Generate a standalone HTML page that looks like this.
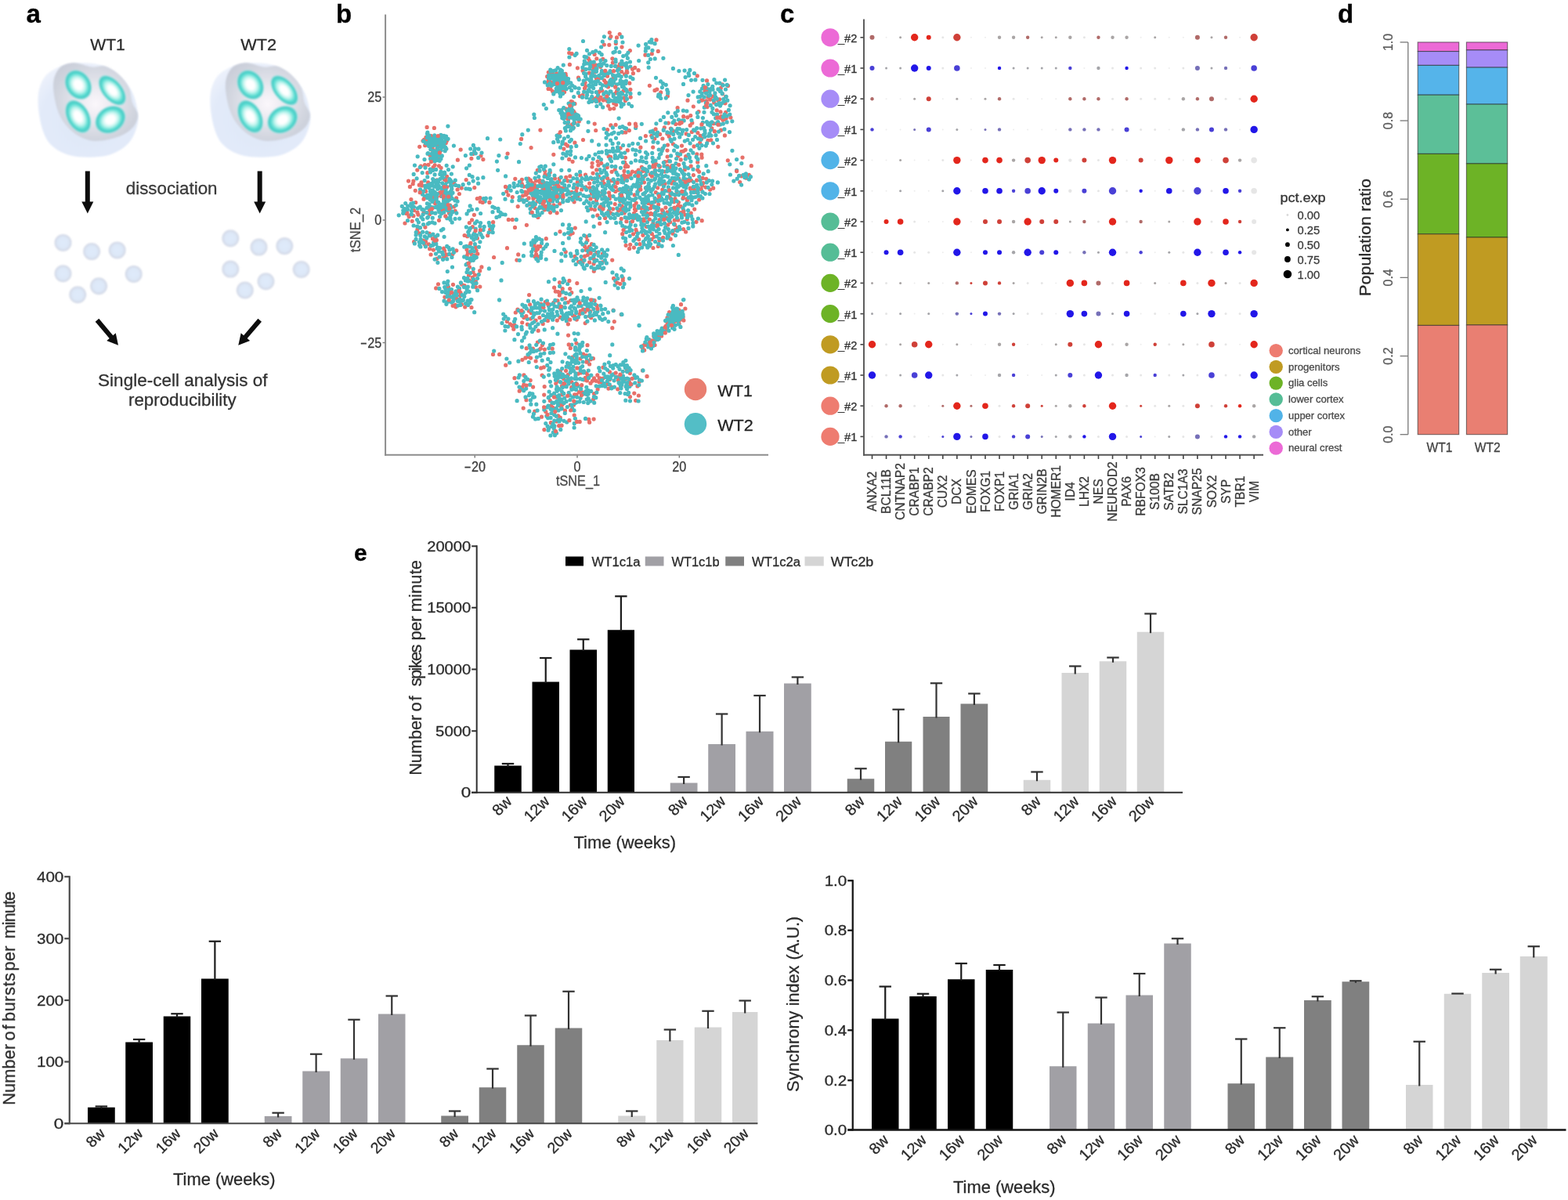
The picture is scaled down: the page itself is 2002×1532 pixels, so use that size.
<!DOCTYPE html>
<html lang="en"><head><meta charset="utf-8"><title>Figure</title>
<style>
html,body{margin:0;padding:0;background:#fff;}
body{width:2002px;height:1532px;overflow:hidden;}
svg{display:block;font-family:"Liberation Sans",Arial,Helvetica,sans-serif;}
text{stroke-width:0.3px;stroke-linejoin:round;}
</style></head><body>
<svg width="2002" height="1532" viewBox="0 0 2002 1532">
<defs><filter id="gb" x="0" y="0" width="2002" height="1532" filterUnits="userSpaceOnUse"><feGaussianBlur stdDeviation="0.55"/></filter></defs>
<rect width="2002" height="1532" fill="#fff"/>
<g filter="url(#gb)">
<g id="panel-a">
<defs>
<filter id="soft" x="-10%" y="-10%" width="120%" height="120%"><feGaussianBlur stdDeviation="1.3"/></filter>
<filter id="soft2" x="-20%" y="-20%" width="140%" height="140%"><feGaussianBlur stdDeviation="0.9"/></filter>
<radialGradient id="gOuter" cx="0.5" cy="0.6" r="0.62"><stop offset="0" stop-color="#dfe8f8"/><stop offset="0.75" stop-color="#e2eaf9"/><stop offset="1" stop-color="#ecf1fb"/></radialGradient>
<radialGradient id="gGray" cx="0.5" cy="0.5" r="0.6"><stop offset="0" stop-color="#efeef4"/><stop offset="0.45" stop-color="#e2e3ea"/><stop offset="0.8" stop-color="#d0d4de"/><stop offset="1" stop-color="#c9cdd8"/></radialGradient>
<radialGradient id="gHi" cx="0.5" cy="0.5" r="0.5"><stop offset="0" stop-color="#fbf7fb" stop-opacity="0.95"/><stop offset="1" stop-color="#f3eef5" stop-opacity="0"/></radialGradient>
<radialGradient id="gTeal" cx="0.5" cy="0.5" r="0.5"><stop offset="0" stop-color="#ffffff"/><stop offset="0.3" stop-color="#ffffff"/><stop offset="0.52" stop-color="#c4f5ef"/><stop offset="0.74" stop-color="#5fdfd4"/><stop offset="0.9" stop-color="#43c9c3"/><stop offset="1" stop-color="#9ae6e4"/></radialGradient>
<radialGradient id="gCell" cx="0.5" cy="0.5" r="0.5"><stop offset="0" stop-color="#dfeafa"/><stop offset="0.6" stop-color="#dde8f8"/><stop offset="0.82" stop-color="#d8e0ef"/><stop offset="0.94" stop-color="#d0d6e4"/><stop offset="1" stop-color="#e0e4ee"/></radialGradient>
</defs>
<text x="33.5" y="28.6" font-size="33" fill="#000" stroke="#000" font-weight="bold">a</text>
<text x="115.2" y="64.2" font-size="21" fill="#2a2a2a" stroke="#2a2a2a" textLength="44.6" lengthAdjust="spacingAndGlyphs">WT1</text>
<text x="307.3" y="64.2" font-size="21" fill="#2a2a2a" stroke="#2a2a2a" textLength="45.9" lengthAdjust="spacingAndGlyphs">WT2</text>
<g transform="translate(0 0)">
<path d="M48.59 133.11C48.15 123.88 48.76 116.05 51.41 109.09C54.06 102.12 57.59 96.03 64.46 91.33C71.34 86.63 81 81.93 92.66 80.89C104.33 79.84 122.25 79.84 134.44 85.07C146.62 90.29 158.81 101.95 165.77 112.22C172.73 122.49 175.17 137.11 176.21 146.68C177.26 156.26 174.65 163.05 172.04 169.66C169.43 176.28 165.94 181.67 160.55 186.37C155.15 191.07 147.49 195.46 139.66 197.86C131.83 200.26 122.25 200.78 113.55 200.78C104.85 200.78 95.45 200.44 87.44 197.86C79.43 195.28 71.08 190.9 65.51 185.33C59.94 179.76 56.84 173.14 54.02 164.44C51.2 155.74 49.03 142.33 48.59 133.11Z" fill="url(#gOuter)" filter="url(#soft)"/>
<path d="M68.43 103.86C69.56 96.9 72.61 90.03 77 86.11C81.38 82.19 88.14 80.45 94.75 80.37C101.37 80.28 110.07 84.84 116.68 85.59C123.3 86.34 128.52 83.2 134.44 84.86C140.36 86.51 147.15 90.95 152.19 95.51C157.24 100.07 161.94 106.3 164.73 112.22C167.51 118.14 167.02 125.27 168.9 131.02C170.78 136.76 175.83 141.46 176.01 146.68C176.18 151.91 173.74 157.82 169.95 162.35C166.15 166.88 160.9 170.88 153.24 173.84C145.58 176.8 132.35 179.93 123.99 180.1C115.64 180.28 109.03 177.49 103.11 174.88C97.19 172.27 92.84 168.79 88.49 164.44C84.13 160.09 80.04 154.87 77 148.77C73.95 142.68 71.64 135.37 70.21 127.89C68.78 120.4 67.3 110.83 68.43 103.86Z" fill="url(#gGray)" filter="url(#soft)"/>
<ellipse cx="121.91" cy="133.11" rx="30" ry="30" fill="url(#gHi)"/>
<ellipse cx="0" cy="0" rx="15.67" ry="19.84" transform="translate(99.97 108.25) rotate(-33)" fill="url(#gTeal)" filter="url(#soft2)"/>
<ellipse cx="0" cy="0" rx="12.53" ry="22.45" transform="translate(143.32 115.35) rotate(-40)" fill="url(#gTeal)" filter="url(#soft2)"/>
<ellipse cx="0" cy="0" rx="14.1" ry="22.45" transform="translate(99.77 148.77) rotate(-28)" fill="url(#gTeal)" filter="url(#soft2)"/>
<ellipse cx="0" cy="0" rx="20.37" ry="16.19" transform="translate(140.91 152.74) rotate(-33)" fill="url(#gTeal)" filter="url(#soft2)"/>
</g>
<g transform="translate(219.8 0)">
<path d="M48.59 133.11C48.15 123.88 48.76 116.05 51.41 109.09C54.06 102.12 57.59 96.03 64.46 91.33C71.34 86.63 81 81.93 92.66 80.89C104.33 79.84 122.25 79.84 134.44 85.07C146.62 90.29 158.81 101.95 165.77 112.22C172.73 122.49 175.17 137.11 176.21 146.68C177.26 156.26 174.65 163.05 172.04 169.66C169.43 176.28 165.94 181.67 160.55 186.37C155.15 191.07 147.49 195.46 139.66 197.86C131.83 200.26 122.25 200.78 113.55 200.78C104.85 200.78 95.45 200.44 87.44 197.86C79.43 195.28 71.08 190.9 65.51 185.33C59.94 179.76 56.84 173.14 54.02 164.44C51.2 155.74 49.03 142.33 48.59 133.11Z" fill="url(#gOuter)" filter="url(#soft)"/>
<path d="M68.43 103.86C69.56 96.9 72.61 90.03 77 86.11C81.38 82.19 88.14 80.45 94.75 80.37C101.37 80.28 110.07 84.84 116.68 85.59C123.3 86.34 128.52 83.2 134.44 84.86C140.36 86.51 147.15 90.95 152.19 95.51C157.24 100.07 161.94 106.3 164.73 112.22C167.51 118.14 167.02 125.27 168.9 131.02C170.78 136.76 175.83 141.46 176.01 146.68C176.18 151.91 173.74 157.82 169.95 162.35C166.15 166.88 160.9 170.88 153.24 173.84C145.58 176.8 132.35 179.93 123.99 180.1C115.64 180.28 109.03 177.49 103.11 174.88C97.19 172.27 92.84 168.79 88.49 164.44C84.13 160.09 80.04 154.87 77 148.77C73.95 142.68 71.64 135.37 70.21 127.89C68.78 120.4 67.3 110.83 68.43 103.86Z" fill="url(#gGray)" filter="url(#soft)"/>
<ellipse cx="121.91" cy="133.11" rx="30" ry="30" fill="url(#gHi)"/>
<ellipse cx="0" cy="0" rx="15.67" ry="19.84" transform="translate(99.97 108.25) rotate(-33)" fill="url(#gTeal)" filter="url(#soft2)"/>
<ellipse cx="0" cy="0" rx="12.53" ry="22.45" transform="translate(143.32 115.35) rotate(-40)" fill="url(#gTeal)" filter="url(#soft2)"/>
<ellipse cx="0" cy="0" rx="14.1" ry="22.45" transform="translate(99.77 148.77) rotate(-28)" fill="url(#gTeal)" filter="url(#soft2)"/>
<ellipse cx="0" cy="0" rx="20.37" ry="16.19" transform="translate(140.91 152.74) rotate(-33)" fill="url(#gTeal)" filter="url(#soft2)"/>
</g>
<polygon points="108.8,218.6 108.8,257.4 104.3,257.4 111.8,272.4 119.3,257.4 114.8,257.4 114.8,218.6" fill="#0a0a0a"/>
<polygon points="328.7,218.6 328.7,257.4 324.2,257.4 331.7,272.4 339.2,257.4 334.7,257.4 334.7,218.6" fill="#0a0a0a"/>
<text x="160.8" y="247.6" font-size="22" fill="#3a3a3a" stroke="#3a3a3a" textLength="116.7" lengthAdjust="spacingAndGlyphs">dissociation</text>
<circle cx="80.5" cy="309.9" r="11" fill="url(#gCell)" filter="url(#soft2)"/>
<circle cx="117.1" cy="321.1" r="11" fill="url(#gCell)" filter="url(#soft2)"/>
<circle cx="149.7" cy="319.4" r="11" fill="url(#gCell)" filter="url(#soft2)"/>
<circle cx="80.5" cy="349.3" r="11" fill="url(#gCell)" filter="url(#soft2)"/>
<circle cx="170.7" cy="349.9" r="11" fill="url(#gCell)" filter="url(#soft2)"/>
<circle cx="126.1" cy="365.2" r="11" fill="url(#gCell)" filter="url(#soft2)"/>
<circle cx="99.2" cy="376.2" r="11" fill="url(#gCell)" filter="url(#soft2)"/>
<circle cx="294.3" cy="304.3" r="11" fill="url(#gCell)" filter="url(#soft2)"/>
<circle cx="330.5" cy="315.6" r="11" fill="url(#gCell)" filter="url(#soft2)"/>
<circle cx="363.3" cy="314.1" r="11" fill="url(#gCell)" filter="url(#soft2)"/>
<circle cx="294.3" cy="343.6" r="11" fill="url(#gCell)" filter="url(#soft2)"/>
<circle cx="384.7" cy="344" r="11" fill="url(#gCell)" filter="url(#soft2)"/>
<circle cx="339.5" cy="359.3" r="11" fill="url(#gCell)" filter="url(#soft2)"/>
<circle cx="312.8" cy="370.5" r="11" fill="url(#gCell)" filter="url(#soft2)"/>
<polygon points="121.7,410.63 139.69,432.02 136.25,434.91 151,440.8 147.73,425.26 144.28,428.15 126.3,406.77" fill="#0a0a0a"/>
<polygon points="329.42,406.75 311.11,428.2 307.68,425.28 304.3,440.8 319.09,435.02 315.67,432.1 333.98,410.65" fill="#0a0a0a"/>
<text x="125.1" y="492.8" font-size="22" fill="#333" stroke="#333" textLength="216.5" lengthAdjust="spacingAndGlyphs">Single-cell analysis of</text>
<text x="164" y="518" font-size="22" fill="#333" stroke="#333" textLength="137.7" lengthAdjust="spacingAndGlyphs">reproducibility</text>
</g>
<g id="panel-b">
<text x="429" y="29.2" font-size="33" fill="#000" stroke="#000" font-weight="bold">b</text>
<path d="M673.5 246.6h0M822.4 232.8h0M672.2 444.7h0M761.5 100.2h0M882.8 230.5h0M848.9 219.0h0M548.6 268.4h0M637.6 452.4h0M798.4 128.6h0M532.9 271.2h0M736.3 408.1h0M865.5 263.0h0M666.9 459.3h0M648.9 249.1h0M702.3 511.4h0M727.7 368.5h0M794.0 60.1h0M527.9 275.7h0M596.3 326.4h0M838.0 50.9h0M783.6 355.4h0M746.5 112.8h0M755.4 311.7h0M845.8 189.9h0M798.7 483.8h0M828.8 433.7h0M896.2 281.7h0M839.7 239.8h0M809.9 262.4h0M713.5 242.1h0M549.4 198.5h0M724.7 186.2h0M770.0 483.0h0M668.8 491.1h0M566.0 187.8h0M719.9 190.1h0M715.1 518.0h0M691.1 390.2h0M703.4 539.7h0M737.3 232.7h0M923.0 153.3h0M770.5 92.8h0M570.7 238.7h0M742.7 242.0h0M729.8 373.6h0M834.9 429.6h0M895.8 177.1h0M719.1 115.9h0M747.3 482.4h0M606.2 326.0h0M740.8 458.0h0M855.8 248.2h0M865.1 137.7h0M788.0 85.2h0M826.0 480.4h0M543.5 239.5h0M718.0 516.5h0M752.6 464.9h0M700.3 92.3h0M697.7 238.9h0M778.5 474.9h0M581.2 269.3h0M885.3 136.0h0M889.7 245.5h0M853.3 157.1h0M722.9 139.2h0M842.5 305.5h0M800.2 473.6h0M874.3 216.7h0M697.2 239.0h0M593.0 364.7h0M689.9 166.1h0M573.9 375.4h0M798.8 168.9h0M920.9 148.7h0M755.4 247.1h0M889.6 230.2h0M680.9 253.6h0M757.7 509.6h0M866.7 228.1h0M734.2 149.3h0M776.2 490.4h0M535.3 236.2h0M576.1 244.7h0M709.8 489.6h0M751.2 74.7h0M726.7 67.5h0M657.8 228.3h0M702.6 271.3h0M657.0 415.1h0M602.0 324.5h0M836.0 213.1h0M567.4 228.9h0M666.3 234.6h0M671.6 248.7h0M686.3 217.3h0M852.5 185.1h0M563.6 247.4h0M543.6 244.3h0M753.7 397.5h0M750.1 390.3h0M749.2 318.1h0M775.2 213.7h0M895.3 241.7h0M608.1 320.0h0M808.4 93.7h0M861.9 398.1h0M687.5 327.9h0M710.0 103.8h0M566.6 317.2h0M797.1 272.0h0M845.9 177.0h0M695.8 218.5h0M695.9 222.8h0M738.7 334.3h0M860.3 410.9h0M877.2 279.8h0M715.4 474.1h0M740.0 401.1h0M696.8 525.6h0M903.9 123.8h0M788.9 86.3h0M733.9 156.8h0M654.3 280.4h0M654.0 415.7h0M810.6 86.4h0M810.1 248.9h0M864.1 244.6h0M759.1 383.7h0M801.3 191.9h0M883.3 168.5h0M815.1 89.7h0M848.3 162.8h0M765.7 285.4h0M555.5 259.6h0M856.4 164.0h0M711.3 409.1h0M725.7 245.1h0M696.8 266.1h0M719.9 405.9h0M706.8 197.3h0M668.9 478.9h0M749.9 306.9h0M557.4 194.7h0M560.5 281.3h0M903.9 179.3h0M867.1 413.2h0M769.7 229.9h0M542.5 210.7h0M530.7 258.5h0M822.9 440.0h0M570.7 325.2h0M778.2 484.7h0M744.1 90.2h0M837.7 427.2h0M678.5 240.7h0M702.9 235.3h0M826.1 272.6h0M614.9 340.9h0M861.3 281.2h0M547.4 311.8h0M771.5 102.6h0M720.9 239.5h0M765.0 487.8h0M793.2 279.4h0M785.2 216.5h0M821.2 264.9h0M603.9 196.4h0M908.9 163.8h0M809.5 272.4h0M761.5 256.1h0M725.6 428.1h0M711.1 271.8h0M698.7 224.4h0M682.9 327.4h0M840.3 314.4h0M762.8 478.9h0M701.8 95.7h0M840.7 261.0h0M769.4 324.0h0M674.8 228.0h0M668.9 405.4h0M691.5 234.9h0M715.4 106.7h0M758.1 535.1h0M781.8 418.7h0M838.8 114.1h0M805.2 124.1h0M766.7 85.3h0M569.3 182.4h0M746.7 314.7h0M528.6 308.7h0M579.5 233.3h0M778.3 41.6h0M752.8 77.5h0M715.7 102.5h0M885.4 223.6h0M560.6 175.5h0M764.1 101.2h0M759.5 92.0h0M682.6 236.1h0M526.2 282.3h0M711.5 486.8h0M869.2 263.7h0M553.5 177.3h0M721.1 490.4h0M727.2 140.9h0M686.4 437.0h0M675.6 376.6h0M765.2 341.4h0M689.1 230.4h0M849.9 265.1h0M886.0 186.9h0M707.0 261.9h0M836.1 440.5h0M764.3 224.8h0M785.9 119.0h0M722.7 150.6h0M844.7 234.8h0M874.9 394.0h0M740.2 538.4h0M779.6 230.8h0M830.4 222.6h0M566.4 268.0h0M625.7 293.1h0M735.7 244.2h0M820.6 218.4h0M680.6 250.5h0M559.5 362.8h0M799.1 313.3h0M658.3 399.0h0M673.4 414.1h0M732.2 252.7h0M686.0 257.1h0M666.7 411.8h0M837.3 245.5h0M851.5 420.6h0M911.7 130.9h0M718.4 248.2h0M677.2 485.6h0M925.4 172.9h0M713.4 171.9h0M729.8 135.5h0M892.6 219.3h0M762.2 124.4h0M730.0 245.4h0M920.5 166.2h0M783.8 132.0h0M693.1 241.4h0M781.1 219.3h0M732.4 142.0h0M837.9 209.6h0M683.4 241.7h0M733.1 257.8h0M799.9 282.7h0M698.7 97.7h0M545.7 179.6h0M762.0 322.4h0M680.4 445.1h0M711.0 507.2h0M587.5 377.4h0M867.7 157.9h0M859.1 298.2h0M747.6 110.1h0M861.4 268.7h0M733.6 503.9h0M717.5 492.9h0M725.3 478.4h0M861.9 293.7h0M647.4 410.4h0M603.3 354.0h0M922.4 119.8h0M725.1 158.6h0M840.3 65.4h0M811.4 278.1h0M852.4 122.7h0M661.7 324.9h0M894.3 173.3h0M789.4 485.2h0M674.6 455.4h0M757.1 221.1h0M749.4 485.9h0M736.7 240.1h0M916.8 187.3h0M797.6 94.8h0M836.0 220.2h0M582.8 319.8h0M804.3 476.6h0M713.6 543.6h0M886.3 241.7h0M909.9 123.1h0M776.4 110.9h0M764.6 128.7h0M708.5 227.9h0M715.0 295.7h0M854.8 214.5h0M852.1 200.0h0M629.6 283.7h0M870.0 193.5h0M732.2 163.0h0M546.6 232.8h0M798.3 212.9h0M852.1 211.8h0M869.2 271.6h0M796.6 265.4h0M785.7 244.4h0M897.8 233.7h0M543.9 175.3h0M716.3 479.9h0M582.7 381.2h0M567.7 326.9h0M775.7 107.7h0M560.5 186.5h0M886.6 239.0h0M854.2 174.2h0M565.8 329.5h0M758.3 346.2h0M736.8 361.6h0M836.7 221.5h0M673.4 246.4h0M564.6 173.3h0M740.3 122.7h0M794.1 267.3h0M563.3 250.4h0M709.0 248.2h0M918.7 126.8h0M763.1 497.0h0M834.4 210.6h0M757.5 243.9h0M712.6 530.8h0M599.3 284.5h0M795.3 358.1h0M835.2 302.3h0M558.0 189.5h0M560.0 203.1h0M850.8 278.4h0M881.8 147.6h0M834.0 284.6h0M707.5 235.0h0M748.3 503.0h0M519.7 271.1h0M548.7 197.7h0M795.3 169.1h0M777.2 199.7h0M716.9 240.2h0M722.5 96.8h0M542.7 185.7h0M702.9 113.7h0M856.2 305.2h0M730.2 68.7h0M558.9 186.9h0M824.4 240.1h0M833.9 316.5h0M700.6 261.5h0M809.8 502.1h0M689.4 392.0h0M692.4 440.6h0M535.7 187.3h0M768.7 488.7h0M812.2 259.2h0M815.7 305.7h0M606.5 351.0h0M741.2 397.2h0M685.0 248.1h0M952.8 227.2h0M956.3 223.3h0M775.5 97.2h0M694.9 548.6h0M613.2 257.5h0M542.1 311.8h0M865.9 262.9h0M796.0 116.0h0M748.3 319.2h0M833.6 273.5h0M860.7 231.1h0M722.1 104.4h0M700.4 102.7h0M602.6 359.1h0M876.2 170.8h0M731.6 402.9h0M926.7 143.3h0M722.7 226.3h0M832.3 68.7h0M755.9 228.3h0M707.3 243.5h0M762.1 390.2h0M836.0 115.4h0M686.9 277.5h0M817.0 311.7h0M677.6 457.1h0M685.4 241.0h0M678.2 399.6h0M700.1 264.8h0M842.6 171.4h0M761.1 486.3h0M768.9 245.6h0M767.7 208.3h0M823.7 266.5h0M768.8 115.8h0M696.1 253.0h0M552.5 194.8h0M661.2 263.6h0M607.5 315.7h0M857.1 400.5h0M664.9 254.8h0M757.0 89.8h0M748.0 238.9h0M849.0 206.7h0M577.8 324.6h0M946.5 224.8h0M869.2 203.9h0M730.7 130.0h0M793.2 401.6h0M815.4 505.0h0M747.5 223.0h0M589.5 363.1h0M738.1 477.2h0M850.4 416.2h0M854.6 398.7h0M731.2 297.6h0M858.5 414.1h0M682.9 237.1h0M657.5 290.4h0M753.0 239.8h0M765.1 116.9h0M829.9 273.3h0M678.1 188.6h0M528.5 268.6h0M883.8 156.9h0M881.2 160.2h0M766.0 482.9h0M865.2 290.8h0M561.6 246.0h0M833.0 213.0h0M563.8 244.2h0M781.7 332.1h0M717.9 100.1h0M683.0 265.5h0M815.2 217.1h0M801.4 224.8h0M744.7 394.9h0M877.0 253.8h0M530.3 243.3h0M738.5 99.2h0M651.4 413.9h0M722.3 184.1h0M794.1 263.2h0M855.8 283.6h0M831.8 173.3h0M699.3 105.5h0M682.8 525.1h0M792.1 189.0h0M836.4 434.2h0M797.6 207.0h0M779.9 159.9h0M733.2 530.1h0M588.0 373.5h0M553.1 213.5h0M861.9 253.7h0M784.3 410.6h0M622.7 300.7h0M569.6 324.8h0M715.4 168.6h0M745.9 484.9h0M808.5 298.8h0M595.2 229.5h0M822.7 447.1h0M852.0 270.8h0M523.4 238.4h0M692.4 254.9h0M527.2 234.7h0M896.5 236.9h0M588.2 191.1h0M803.7 488.0h0M756.5 81.9h0M730.5 252.3h0M728.7 383.5h0M573.1 247.6h0M846.6 303.3h0M836.0 257.6h0M797.0 218.4h0M694.8 233.4h0M586.4 247.5h0M676.6 388.8h0M702.6 104.6h0M927.1 150.8h0M548.6 317.7h0M756.4 486.3h0M733.9 182.2h0M715.1 405.2h0M799.3 210.3h0M944.7 232.5h0M845.8 242.0h0M821.6 279.8h0M758.7 126.2h0M752.3 93.2h0M558.1 250.8h0M556.9 199.4h0M819.3 213.3h0M799.9 245.5h0M830.9 272.3h0M929.3 204.8h0M571.3 262.5h0M705.3 92.0h0M613.0 252.5h0M832.0 305.7h0M714.5 360.6h0M721.5 524.2h0M715.3 533.2h0M872.6 292.5h0M550.6 173.6h0M727.8 224.9h0M711.5 234.7h0M719.8 483.8h0M772.6 278.4h0M684.1 461.0h0M755.2 81.2h0M791.2 43.6h0M789.5 242.7h0M920.0 142.9h0M725.6 483.6h0M872.7 148.7h0M865.0 397.9h0M754.7 266.8h0M844.6 428.9h0M538.8 236.9h0M778.3 253.4h0M602.6 280.8h0M698.1 247.2h0M812.8 296.2h0M649.3 280.4h0M825.4 440.5h0M737.4 86.8h0M760.7 166.5h0M862.2 409.9h0M857.8 211.6h0M866.9 395.9h0M747.1 105.6h0M705.0 108.2h0M553.6 251.7h0M865.7 199.2h0M605.4 274.3h0M742.7 332.2h0M571.8 251.0h0M832.4 298.6h0M904.2 116.0h0M859.6 167.4h0M835.8 177.1h0M795.3 355.1h0M655.8 420.2h0M731.1 206.3h0M624.9 258.4h0M872.9 229.2h0M522.2 276.6h0M703.8 240.4h0M907.8 178.8h0M870.5 186.1h0M739.3 154.9h0M545.8 220.7h0M776.6 135.1h0M853.6 205.7h0M555.3 254.6h0M786.3 55.5h0M790.8 267.7h0M820.2 443.7h0M537.4 212.1h0M860.5 257.8h0M872.4 193.0h0M607.4 366.6h0M687.2 422.2h0M857.6 233.9h0M836.1 217.8h0M725.6 152.5h0M754.0 489.2h0M570.6 225.3h0M744.8 452.0h0M832.1 434.9h0M914.3 207.3h0M901.8 128.9h0M849.0 234.6h0M878.0 128.2h0M729.8 487.5h0M852.0 192.1h0M730.3 145.9h0M716.2 373.4h0M851.9 170.8h0M807.4 219.2h0M593.1 300.5h0M830.5 259.9h0M729.8 146.5h0M877.8 149.8h0M589.2 240.1h0M659.9 332.1h0M812.2 219.9h0M766.7 126.1h0M762.9 274.9h0M737.7 250.7h0M701.8 250.2h0M769.2 334.8h0M547.0 210.3h0M708.9 95.8h0M922.2 107.9h0M605.8 239.6h0M752.3 315.0h0M906.7 127.1h0M758.0 336.8h0M882.3 272.1h0M759.1 69.4h0M842.3 212.7h0M629.5 452.4h0M826.1 480.5h0M710.2 246.6h0M699.4 409.4h0M614.0 199.0h0M757.7 86.1h0M758.3 330.4h0M679.8 233.7h0M684.6 324.7h0M805.0 222.6h0M684.4 230.9h0M750.0 440.7h0M825.3 289.3h0M548.8 178.9h0M786.6 133.8h0M730.7 144.7h0M715.1 515.1h0M804.5 506.6h0M712.0 383.9h0M893.7 182.3h0M869.5 388.7h0M916.9 128.2h0M864.1 409.1h0M757.4 457.7h0M902.9 136.6h0M881.5 241.3h0M554.4 163.4h0M862.7 158.4h0M609.8 324.1h0M890.7 207.0h0M731.0 456.2h0M680.6 494.1h0M521.8 274.9h0M759.4 267.7h0M896.1 201.2h0M803.8 106.2h0M732.5 517.0h0M886.7 267.1h0M684.1 409.0h0M596.7 301.7h0M582.7 252.9h0M901.0 239.1h0M816.2 237.0h0M714.7 260.0h0M761.4 253.1h0M725.0 230.9h0M555.7 175.2h0M691.5 532.2h0M527.9 231.0h0M798.0 227.0h0M660.9 395.0h0M750.2 325.6h0M929.5 109.4h0M756.1 208.3h0M820.9 300.3h0M754.1 458.8h0M911.0 157.7h0M736.0 503.9h0M563.1 214.3h0M646.9 244.5h0M749.0 453.9h0M788.7 496.8h0M917.8 149.9h0M578.5 363.3h0M832.4 225.0h0M688.9 405.5h0M726.6 203.4h0M823.9 70.2h0M560.5 211.8h0M820.5 473.0h0M729.7 494.7h0M897.1 227.4h0M852.0 405.5h0M733.9 327.4h0M822.2 259.4h0M735.9 438.1h0M895.5 128.2h0M584.4 204.2h0M564.0 268.3h0M572.5 366.3h0M782.9 99.8h0M874.8 274.2h0M776.9 496.1h0M901.7 228.3h0M681.0 239.5h0M868.4 408.2h0M811.6 268.6h0M573.4 272.0h0M534.8 297.5h0M598.5 351.6h0M827.7 259.5h0M769.8 75.4h0M672.0 510.7h0M666.8 494.3h0M601.9 202.3h0M700.1 113.4h0M783.9 231.3h0M694.0 392.6h0M715.3 106.6h0M906.6 242.1h0M747.0 398.1h0M797.5 268.4h0M717.6 503.8h0M676.4 261.0h0M609.4 304.2h0M729.1 129.6h0M667.4 250.0h0M783.1 396.2h0M558.0 229.9h0M545.1 162.4h0M932.9 150.1h0M752.6 234.2h0M677.4 407.0h0M567.6 320.1h0M816.2 487.3h0M841.9 306.8h0M722.2 321.5h0M684.2 319.9h0M699.0 235.1h0M861.6 286.9h0M817.9 188.2h0M777.3 269.2h0M810.5 267.2h0M791.4 81.8h0M833.7 188.1h0M890.3 96.8h0M740.9 223.7h0M720.6 117.6h0M566.0 243.1h0M793.6 85.3h0M728.1 299.2h0M574.7 262.2h0M734.3 291.1h0M683.6 251.6h0M778.6 249.9h0M540.0 179.8h0M676.8 239.6h0M912.4 167.7h0M758.6 502.7h0M699.0 251.9h0M694.7 504.1h0M852.0 411.8h0M890.7 216.9h0M705.6 520.2h0M775.6 165.5h0M839.6 429.9h0M900.1 116.4h0M733.5 144.2h0M747.2 412.6h0M842.0 280.5h0M920.0 150.6h0M548.6 273.5h0M752.6 334.9h0M765.2 482.7h0M743.5 500.9h0M657.0 482.7h0M915.2 140.8h0M609.3 253.5h0M553.4 319.1h0M725.7 147.1h0M714.3 377.0h0M820.9 441.7h0M709.3 372.1h0M771.3 57.0h0M797.8 229.4h0M787.5 47.9h0M705.6 116.5h0M725.0 386.0h0M839.7 255.1h0M716.3 103.6h0M597.3 322.7h0M690.7 388.2h0M714.1 228.0h0M889.8 196.8h0M599.5 340.9h0M668.9 238.1h0M829.4 109.3h0M708.7 252.5h0M550.1 325.0h0M801.5 243.8h0M733.9 132.4h0M839.1 288.9h0M761.8 74.8h0M665.6 177.4h0M521.5 231.1h0M752.3 403.5h0M801.7 212.5h0M524.9 254.5h0M758.5 482.9h0M734.4 444.2h0M775.5 128.9h0M714.0 231.9h0M775.6 227.7h0M818.6 265.8h0M771.4 234.3h0M865.8 280.9h0M567.9 379.3h0M751.8 535.4h0M582.0 391.8h0M835.4 207.4h0M811.6 511.3h0M872.1 404.8h0M782.4 80.1h0M697.1 266.9h0M707.6 367.2h0M532.8 217.1h0M689.3 232.5h0M802.4 226.0h0M593.7 392.0h0M569.2 260.5h0M654.3 251.7h0M763.7 121.1h0M556.7 367.9h0M542.9 290.1h0M803.6 158.2h0M859.4 183.8h0M717.3 521.3h0M589.4 388.6h0M844.3 273.9h0M875.7 199.6h0M744.0 335.3h0M709.5 243.7h0M800.8 92.4h0M796.8 124.9h0M804.4 64.6h0M822.1 247.6h0M695.2 493.6h0M730.6 158.8h0M603.4 289.7h0M541.5 178.4h0M543.5 308.3h0M824.4 173.6h0M701.3 260.1h0M705.2 445.2h0M556.2 302.4h0M557.8 330.3h0M710.7 538.0h0M730.6 159.2h0M748.9 476.5h0M777.8 57.3h0M579.5 264.0h0M825.4 219.0h0M754.7 405.7h0M814.0 493.0h0M540.7 307.0h0M854.3 251.3h0M666.4 229.3h0M548.1 298.1h0M570.4 179.7h0M710.6 93.9h0M881.3 240.2h0M740.2 443.3h0M787.6 116.1h0M761.0 83.1h0M902.5 102.9h0M793.7 91.5h0M534.0 274.1h0M750.4 479.0h0M758.1 251.5h0M541.0 271.2h0M702.2 219.9h0M696.3 243.6h0M838.3 269.0h0M718.2 368.7h0M896.9 127.8h0M875.6 296.0h0M748.8 302.2h0M670.5 245.2h0M926.7 123.4h0M845.8 420.7h0M552.1 189.3h0M599.9 313.3h0M757.1 128.6h0M596.0 318.5h0M892.6 255.0h0M567.6 245.6h0M780.5 494.2h0M517.0 285.0h0M890.9 169.6h0M710.1 107.1h0M706.9 386.3h0M703.6 517.9h0M599.3 358.1h0M645.7 466.2h0M736.0 240.2h0M785.2 260.6h0M604.1 347.3h0M566.6 254.0h0M607.5 359.7h0M741.6 476.0h0M859.8 407.2h0M695.3 267.8h0M532.9 293.2h0M553.2 192.1h0M770.8 249.3h0M777.6 246.0h0M763.9 210.9h0M712.7 372.6h0M769.9 469.1h0M739.4 500.6h0M843.7 117.9h0M546.4 236.0h0M647.5 316.7h0M779.5 200.3h0M877.4 255.8h0M920.3 112.4h0M722.6 473.3h0M707.0 105.0h0M926.0 131.8h0M866.4 258.4h0M793.0 492.7h0M581.2 389.3h0M648.1 196.1h0M682.0 312.3h0M693.0 238.4h0M721.6 380.8h0M690.7 469.9h0M789.6 269.1h0M875.2 191.3h0M578.1 390.3h0M569.7 175.6h0M733.6 403.9h0M712.9 110.6h0M728.4 517.2h0M798.5 201.3h0M693.2 413.4h0M682.7 315.7h0M722.1 94.3h0M715.0 393.0h0M518.7 272.5h0M675.4 396.9h0M804.7 312.3h0M780.0 272.0h0M791.9 256.9h0M925.6 152.1h0M696.2 385.5h0M759.2 158.1h0M782.6 266.8h0M744.5 178.6h0M817.4 238.0h0M892.0 142.6h0M727.4 82.4h0M725.5 466.6h0M852.8 287.1h0M889.0 283.3h0M856.2 253.3h0M692.5 264.9h0M788.7 481.3h0M822.5 225.1h0M857.7 399.3h0M781.9 74.8h0M692.1 479.0h0M744.1 121.4h0M832.2 262.0h0M860.8 404.9h0M811.4 158.2h0" stroke="#e76f69" stroke-width="5.2" stroke-linecap="round" fill="none"/>
<path d="M579.4 186.1h0M533.2 199.8h0M542.0 203.6h0M529.5 211.1h0M594.4 198.6h0M599.4 211.1h0M595.6 214.8h0M622.5 176.7h0M638.7 178.0h0M636.9 198.6h0M646.8 201.1h0M634.4 206.1h0M635.6 217.3h0M662.5 206.7h0M664.3 183.6h0M666.8 171.7h0M674.3 166.1h0M681.8 146.1h0M682.4 150.5h0M694.3 133.6h0M697.4 138.6h0M704.9 129.9h0M713.7 140.5h0M695.5 104.9h0M706.8 119.9h0M715.5 123.0h0M726.8 62.5h0M719.3 83.1h0M706.8 209.8h0M716.8 217.3h0M726.8 217.3h0M571.9 161.1h0M744.5 52.5h0M749.5 64.3h0M760.7 65.0h0M767.6 60.0h0M815.1 58.1h0M815.7 77.5h0M846.9 74.3h0M828.2 86.2h0M837.5 99.3h0M816.3 119.3h0M859.4 87.4h0M866.9 90.6h0M872.5 107.4h0M924.9 164.9h0M931.8 146.1h0M783.2 128.7h0M790.1 151.1h0M755.7 179.9h0M764.5 184.8h0M934.9 192.3h0M901.8 211.7h0M931.8 209.8h0M940.6 203.6h0M946.8 208.6h0M940.6 217.3h0M528.2 222.4h0M520.7 263.0h0M539.5 248.0h0M616.9 226.7h0M610.6 234.2h0M659.3 280.4h0M588.2 310.4h0M578.2 317.9h0M641.2 335.4h0M624.4 342.9h0M640.0 357.9h0M577.5 341.0h0M571.3 346.6h0M571.9 359.1h0M611.3 350.4h0M608.1 361.6h0M669.3 311.0h0M708.0 320.4h0M718.6 310.4h0M716.8 324.1h0M716.8 332.9h0M645.6 224.9h0M645.0 254.2h0M663.1 251.7h0M571.9 385.3h0M637.5 382.8h0M700.5 359.7h0M708.0 356.6h0M748.2 282.9h0M758.2 289.2h0M775.1 283.6h0M772.6 296.7h0M752.6 300.4h0M795.7 303.5h0M859.4 313.5h0M866.3 325.4h0M814.4 321.6h0M932.4 223.0h0M793.2 342.9h0M796.3 345.4h0M782.0 347.9h0M773.2 360.4h0M753.2 369.1h0M742.0 371.6h0M765.1 380.3h0M767.0 390.3h0M783.2 396.6h0M872.5 382.8h0M637.6 383.1h0M766.8 390.0h0M793.7 401.2h0M776.8 410.6h0M816.2 415.6h0M605.7 398.7h0M594.5 387.5h0M656.9 433.7h0M705.6 418.7h0M711.9 426.2h0M733.1 425.6h0M738.1 426.2h0M666.3 443.1h0M630.7 448.1h0M646.9 458.0h0M650.7 463.0h0M661.9 461.2h0M721.9 451.8h0M718.1 461.8h0M781.8 439.9h0M778.7 453.7h0M660.1 511.7h0M758.7 514.2h0M761.8 501.1h0M710.6 553.0h0M700.0 549.2h0M872.9 382.5h0M868.9 417.4h0M816.0 415.4h0M820.5 447.9h0M831.5 444.9h0M794.0 401.5h0M821.0 472.9h0M557.3 180.9h0M558.8 179.4h0M563.3 176.6h0M553.3 185.7h0M549.6 202.7h0M549.7 176.7h0M545.5 170.7h0M554.1 180.5h0M550.3 181.9h0M546.5 182.7h0M553.9 202.8h0M557.4 200.3h0M561.2 205.3h0M568.2 192.7h0M567.8 180.9h0M563.7 177.9h0M555.1 205.8h0M556.8 193.0h0M554.4 195.7h0M551.1 185.7h0M547.9 172.8h0M545.6 175.7h0M557.2 180.9h0M559.0 178.4h0M547.6 186.5h0M553.0 197.0h0M546.0 196.2h0M563.0 191.9h0M564.3 198.9h0M554.8 172.8h0M549.8 190.7h0M553.6 192.7h0M552.8 177.4h0M545.9 183.5h0M543.4 182.6h0M540.7 180.2h0M548.5 180.2h0M550.8 178.1h0M563.8 187.9h0M566.5 187.4h0M568.7 188.1h0M559.2 175.5h0M563.6 178.4h0M566.9 173.3h0M562.9 172.4h0M569.9 190.1h0M560.4 182.7h0M558.7 204.4h0M568.6 176.5h0M562.9 202.7h0M563.9 180.6h0M564.7 184.1h0M567.0 185.8h0M561.8 198.4h0M558.7 196.5h0M569.2 189.1h0M565.6 186.4h0M562.0 186.8h0M551.1 196.3h0M553.4 199.3h0M552.9 202.9h0M556.8 176.6h0M563.0 173.6h0M545.9 169.2h0M569.6 174.2h0M572.1 177.3h0M555.9 185.1h0M558.7 188.8h0M560.6 192.3h0M552.5 183.5h0M553.5 180.2h0M546.5 195.5h0M548.3 182.9h0M552.7 182.0h0M711.5 103.5h0M715.0 103.8h0M700.7 96.1h0M704.8 96.3h0M709.6 89.6h0M714.2 111.3h0M720.6 112.7h0M702.1 106.4h0M714.1 117.2h0M714.9 92.0h0M717.4 90.4h0M702.4 100.6h0M705.9 100.1h0M710.7 100.4h0M718.2 109.9h0M714.1 114.2h0M719.3 102.3h0M720.0 99.9h0M715.2 95.7h0M712.8 96.7h0M707.1 107.7h0M703.8 109.4h0M707.5 102.7h0M728.8 105.9h0M726.5 106.1h0M722.4 104.1h0M702.8 89.2h0M709.8 98.4h0M717.2 92.5h0M719.9 94.8h0M722.2 106.3h0M720.8 108.5h0M703.0 90.9h0M706.6 90.6h0M723.2 113.6h0M720.9 112.6h0M716.7 113.0h0M712.9 113.3h0M711.7 110.7h0M710.8 106.9h0M725.6 100.6h0M718.4 104.2h0M717.6 99.6h0M723.4 100.4h0M725.5 103.8h0M727.4 111.5h0M712.1 86.7h0M717.0 95.0h0M718.6 119.6h0M699.2 108.7h0M715.2 101.0h0M720.9 98.4h0M718.1 97.6h0M715.2 97.0h0M707.9 96.0h0M711.5 96.4h0M719.2 102.4h0M715.5 108.0h0M700.5 99.5h0M714.8 118.9h0M714.5 116.2h0M710.2 96.9h0M714.0 98.1h0M718.4 96.3h0M715.6 89.2h0M721.4 110.5h0M723.0 107.7h0M724.8 102.7h0M712.5 111.4h0M710.2 113.1h0M709.8 116.8h0M716.9 140.6h0M730.9 140.6h0M727.1 161.6h0M737.7 151.9h0M735.9 147.7h0M717.8 150.5h0M731.4 164.2h0M724.9 161.3h0M721.8 164.0h0M725.6 156.1h0M729.2 137.8h0M728.6 134.1h0M737.7 147.0h0M728.5 166.7h0M728.0 139.1h0M724.3 140.8h0M727.5 142.0h0M733.4 148.8h0M737.9 159.5h0M724.1 141.8h0M721.2 156.4h0M724.1 144.0h0M721.3 146.2h0M724.3 142.6h0M724.0 161.5h0M716.0 144.3h0M717.6 147.2h0M730.4 144.0h0M735.5 146.2h0M738.6 148.2h0M721.0 149.6h0M730.8 150.1h0M727.3 150.1h0M721.4 163.7h0M741.2 152.0h0M727.5 137.8h0M728.2 133.7h0M732.5 132.7h0M718.2 144.3h0M719.0 147.7h0M719.7 151.5h0M733.1 153.0h0M732.6 157.4h0M719.7 137.6h0M722.4 167.0h0M732.2 162.8h0M737.0 149.2h0M730.2 150.2h0M726.1 132.1h0M575.4 237.1h0M575.1 232.8h0M575.2 230.1h0M570.1 254.2h0M552.0 257.3h0M570.0 259.6h0M551.7 234.4h0M553.3 231.6h0M563.4 264.7h0M559.6 266.1h0M556.8 252.7h0M575.9 249.0h0M578.0 246.2h0M565.0 250.8h0M547.8 239.8h0M564.8 260.9h0M559.4 238.1h0M558.8 241.2h0M573.5 268.0h0M558.6 230.3h0M562.1 228.4h0M567.2 227.8h0M576.8 240.9h0M574.6 262.8h0M557.5 235.8h0M569.7 263.2h0M570.5 267.4h0M551.6 236.8h0M548.7 237.5h0M563.7 240.6h0M548.0 260.9h0M571.9 268.7h0M568.7 235.9h0M552.4 255.8h0M549.0 253.5h0M573.8 254.9h0M548.6 251.9h0M549.8 247.5h0M549.3 244.3h0M555.3 245.5h0M551.8 243.0h0M568.8 246.7h0M575.2 244.7h0M558.5 257.8h0M557.3 254.1h0M556.1 251.8h0M558.3 247.7h0M552.3 236.5h0M554.7 238.2h0M565.1 239.3h0M566.7 236.0h0M556.9 250.3h0M550.0 254.8h0M566.6 256.8h0M559.8 258.4h0M562.5 261.1h0M569.2 242.4h0M549.4 263.8h0M552.8 264.9h0M556.0 264.6h0M571.6 246.3h0M552.7 243.2h0M553.2 247.4h0M555.0 230.4h0M570.9 251.1h0M573.1 248.3h0M562.7 265.2h0M567.3 264.0h0M555.6 246.8h0M552.4 247.3h0M560.3 237.3h0M559.8 232.5h0M550.1 250.7h0M571.8 256.6h0M574.4 252.5h0M558.7 263.4h0M545.6 249.1h0M573.8 228.7h0M551.5 235.3h0M547.0 236.2h0M570.6 257.5h0M575.5 265.1h0M570.4 232.5h0M570.6 247.4h0M545.2 252.6h0M550.4 234.7h0M576.4 232.1h0M552.7 228.6h0M549.1 255.1h0M556.6 233.0h0M715.2 250.8h0M711.0 249.8h0M679.1 236.0h0M705.7 249.9h0M686.6 246.2h0M688.3 237.6h0M723.7 241.2h0M711.7 232.5h0M680.0 249.0h0M693.0 254.8h0M688.2 255.9h0M694.7 236.6h0M700.0 245.2h0M684.3 250.3h0M688.3 251.5h0M707.4 254.0h0M707.0 233.5h0M702.3 233.5h0M699.6 235.1h0M691.4 246.7h0M718.1 243.7h0M721.2 242.5h0M693.8 258.0h0M696.7 255.7h0M700.4 258.5h0M687.2 255.3h0M687.3 250.8h0M699.3 251.3h0M698.5 247.0h0M704.9 249.2h0M705.6 246.2h0M695.7 252.1h0M715.8 242.0h0M689.4 264.0h0M698.2 233.5h0M678.1 246.7h0M700.5 264.0h0M693.1 231.2h0M701.9 252.8h0M706.1 232.8h0M683.4 260.7h0M707.5 240.9h0M701.1 263.7h0M704.9 266.4h0M707.2 269.1h0M694.8 248.9h0M716.2 245.4h0M690.0 251.8h0M710.4 243.9h0M708.7 246.4h0M706.9 249.5h0M673.3 237.8h0M676.6 236.0h0M682.0 245.7h0M703.9 228.6h0M684.6 243.0h0M689.9 237.7h0M691.0 244.0h0M702.5 247.3h0M701.8 244.4h0M700.0 240.4h0M712.6 251.3h0M711.5 256.9h0M686.8 237.7h0M673.3 238.8h0M706.8 239.8h0M712.9 240.6h0M709.8 239.2h0M717.7 234.0h0M705.0 254.1h0M672.9 237.4h0M701.3 242.1h0M704.0 263.8h0M688.8 265.4h0M702.4 235.8h0M698.4 239.3h0M698.7 243.4h0M689.7 258.5h0M689.5 256.9h0M689.4 237.2h0M711.1 263.3h0M694.6 245.1h0M692.4 238.2h0M700.0 262.5h0M687.1 252.6h0M685.4 247.7h0M688.3 244.4h0M694.7 257.8h0M693.6 262.7h0M693.8 265.9h0M720.8 236.4h0M707.1 265.3h0M713.0 252.6h0M712.7 248.8h0M705.6 257.0h0M866.2 413.8h0M859.4 390.4h0M865.3 409.0h0M863.6 394.0h0M861.1 400.1h0M864.8 401.7h0M858.6 412.4h0M852.2 407.6h0M871.3 400.6h0M867.8 406.1h0M861.1 420.3h0M853.4 415.7h0M858.4 407.9h0M871.8 407.3h0M861.0 399.0h0M862.5 402.6h0M858.3 403.6h0M864.8 394.3h0M866.9 398.5h0M864.1 397.0h0M865.7 400.5h0M861.1 409.0h0M859.3 405.4h0M857.3 403.6h0M858.2 400.3h0M859.5 396.6h0M864.9 404.3h0M868.2 402.6h0M872.0 403.0h0M852.5 417.6h0M862.2 415.3h0M866.6 408.6h0M855.1 412.1h0M853.1 401.8h0M858.6 392.7h0M855.2 410.3h0M858.7 407.2h0M862.7 406.9h0M859.8 395.5h0M858.5 418.6h0M849.6 409.4h0M856.6 405.9h0M858.8 403.4h0M861.6 402.8h0M861.8 403.2h0M828.0 439.2h0M844.8 426.2h0M843.7 423.0h0M837.7 426.6h0M835.7 429.8h0M841.6 426.1h0M841.4 432.4h0M839.8 433.4h0M825.9 430.6h0M854.0 422.2h0M825.3 432.5h0M823.9 436.8h0M841.4 425.6h0M843.7 426.3h0M840.5 424.0h0M843.5 422.3h0M844.8 420.5h0M845.2 419.0h0M828.3 433.5h0M848.1 422.8h0M833.8 441.6h0M834.9 437.3h0M839.1 422.6h0M827.7 443.0h0M838.2 432.5h0M835.4 430.6h0M834.8 427.7h0M830.3 441.4h0M837.1 429.0h0M837.9 431.8h0M818.7 442.3h0M834.7 425.8h0M829.4 437.2h0M773.7 117.7h0M770.8 120.2h0M761.5 91.3h0M793.0 125.0h0M754.9 102.0h0M754.7 99.2h0M799.0 106.4h0M761.9 135.5h0M794.4 110.5h0M791.1 106.7h0M762.0 87.8h0M796.3 81.7h0M800.6 87.5h0M752.7 87.7h0M753.7 84.9h0M749.9 117.7h0M751.7 114.5h0M754.7 97.4h0M756.3 93.9h0M760.3 127.7h0M774.8 83.6h0M766.9 77.1h0M732.7 123.5h0M786.1 78.9h0M745.7 82.1h0M754.6 79.7h0M790.6 96.7h0M787.5 96.5h0M769.7 136.9h0M757.0 109.1h0M757.7 112.6h0M768.3 99.7h0M771.3 96.6h0M761.2 87.6h0M795.9 104.7h0M755.8 117.8h0M752.5 116.2h0M779.0 103.2h0M794.5 119.9h0M780.3 84.4h0M790.4 88.2h0M783.7 103.4h0M779.0 90.5h0M785.6 84.4h0M739.3 101.6h0M759.5 97.2h0M766.2 106.6h0M769.4 108.8h0M773.9 109.6h0M804.5 79.0h0M768.4 90.4h0M801.4 74.3h0M779.1 107.7h0M747.9 94.2h0M739.1 112.8h0M804.9 98.4h0M748.8 124.5h0M746.2 72.3h0M808.0 100.7h0M793.0 131.9h0M768.2 69.7h0M792.8 118.4h0M763.5 122.1h0M793.2 97.8h0M766.8 132.8h0M789.5 119.5h0M792.8 119.7h0M780.1 101.5h0M799.4 114.4h0M785.2 97.0h0M785.9 100.6h0M734.3 111.9h0M772.0 125.8h0M800.5 126.3h0M749.6 121.3h0M755.7 123.3h0M753.3 126.7h0M783.0 120.5h0M783.2 123.0h0M792.4 106.5h0M792.2 102.5h0M789.9 94.8h0M764.1 83.1h0M767.9 83.8h0M763.4 103.5h0M760.7 107.6h0M752.5 68.8h0M749.6 100.8h0M753.4 103.1h0M747.6 97.7h0M773.0 77.6h0M786.8 129.3h0M785.5 125.4h0M761.3 117.7h0M773.5 92.8h0M776.6 93.5h0M765.4 67.1h0M748.0 88.4h0M743.9 86.2h0M738.3 118.4h0M799.6 84.5h0M797.9 82.8h0M770.9 80.9h0M766.6 81.9h0M746.3 77.9h0M788.4 90.1h0M781.6 108.7h0M783.4 105.7h0M776.9 130.0h0M779.4 128.0h0M800.0 80.6h0M748.9 80.9h0M757.2 90.9h0M751.9 130.6h0M772.5 92.3h0M771.7 96.0h0M799.4 97.2h0M780.0 116.8h0M761.4 129.7h0M743.5 124.2h0M805.0 119.4h0M754.6 105.0h0M759.4 104.5h0M799.4 121.8h0M804.8 85.0h0M756.8 66.6h0M758.3 79.1h0M802.9 132.6h0M800.7 116.9h0M799.4 103.3h0M796.1 108.5h0M796.8 112.0h0M796.2 133.1h0M789.3 113.9h0M765.9 82.9h0M755.6 129.5h0M748.6 72.9h0M793.3 136.0h0M752.0 109.1h0M743.7 107.5h0M745.7 117.2h0M745.2 103.1h0M792.1 127.3h0M790.0 129.6h0M729.7 115.4h0M745.6 93.6h0M777.0 126.0h0M778.8 128.9h0M752.9 81.8h0M788.2 125.2h0M790.8 122.7h0M792.9 81.9h0M793.9 78.0h0M767.8 93.8h0M764.6 96.6h0M782.6 96.1h0M780.3 92.6h0M777.1 105.9h0M767.5 113.0h0M753.0 111.0h0M751.3 115.2h0M786.0 76.1h0M776.8 120.0h0M779.0 116.9h0M787.6 107.8h0M919.5 135.1h0M913.5 123.7h0M896.1 122.0h0M893.5 123.5h0M922.1 119.4h0M919.5 116.4h0M893.8 116.9h0M907.2 113.6h0M906.6 121.3h0M924.3 129.5h0M923.7 126.5h0M927.2 123.3h0M914.6 133.7h0M898.1 109.4h0M906.0 117.2h0M909.9 138.4h0M891.2 123.9h0M928.8 128.2h0M910.1 114.2h0M926.5 114.0h0M915.2 125.9h0M901.3 131.2h0M918.2 131.5h0M904.9 122.2h0M912.9 118.9h0M921.5 131.9h0M909.8 110.4h0M896.2 119.1h0M899.1 124.0h0M907.3 134.4h0M901.5 119.1h0M896.5 113.0h0M920.3 116.3h0M916.9 113.9h0M911.2 128.1h0M902.4 112.5h0M903.9 107.5h0M914.7 106.1h0M925.0 146.1h0M930.4 140.4h0M928.1 155.9h0M928.0 148.0h0M923.3 158.1h0M923.4 149.3h0M913.7 150.8h0M934.8 154.8h0M915.5 146.0h0M911.3 145.7h0M909.0 143.3h0M914.9 157.6h0M916.7 155.6h0M919.5 158.9h0M542.1 230.6h0M551.6 271.4h0M552.3 278.2h0M540.1 273.8h0M543.0 237.2h0M577.6 271.0h0M574.9 274.1h0M567.9 222.1h0M581.8 236.4h0M577.6 270.1h0M561.6 276.5h0M562.9 219.0h0M541.1 268.1h0M555.1 285.0h0M575.1 280.6h0M574.7 277.7h0M564.5 226.3h0M561.8 222.4h0M555.9 272.2h0M586.7 279.1h0M582.2 262.0h0M545.7 278.1h0M581.0 255.9h0M577.3 253.3h0M582.9 272.1h0M577.2 283.9h0M564.8 223.9h0M584.1 257.1h0M546.5 277.0h0M567.6 220.0h0M545.4 259.8h0M581.3 230.2h0M548.0 284.7h0M552.0 283.8h0M543.2 239.3h0M563.7 272.6h0M566.8 271.1h0M536.5 241.9h0M540.7 244.0h0M560.0 268.2h0M561.0 270.8h0M539.9 279.9h0M576.4 222.1h0M576.8 237.4h0M581.1 279.3h0M544.9 271.5h0M555.1 222.9h0M546.3 285.8h0M574.9 278.9h0M570.8 278.7h0M564.8 233.8h0M545.8 225.9h0M542.1 250.5h0M575.6 274.0h0M585.6 237.4h0M545.0 265.4h0M520.5 267.3h0M536.3 264.0h0M534.4 283.8h0M538.8 267.2h0M532.6 280.6h0M514.7 272.3h0M516.1 269.6h0M524.8 260.2h0M533.3 265.9h0M525.4 273.7h0M520.5 281.5h0M527.6 259.1h0M513.3 263.3h0M517.7 259.6h0M525.7 264.4h0M537.9 277.2h0M528.4 264.0h0M525.4 269.3h0M516.7 266.7h0M514.8 268.6h0M509.2 274.8h0M607.3 292.0h0M605.7 297.6h0M604.1 300.0h0M606.6 284.9h0M608.9 282.7h0M612.9 308.8h0M600.4 291.4h0M617.1 293.6h0M614.3 299.8h0M612.8 297.1h0M604.8 306.2h0M618.2 289.4h0M607.7 303.8h0M608.8 300.7h0M613.6 284.6h0M598.7 300.2h0M612.9 288.9h0M599.2 294.0h0M597.8 296.2h0M595.4 289.9h0M616.1 302.8h0M536.8 300.4h0M537.1 305.4h0M542.3 301.9h0M558.8 315.8h0M556.8 311.4h0M552.7 313.0h0M553.7 309.6h0M558.8 300.2h0M556.5 324.1h0M531.1 305.4h0M537.6 308.4h0M535.3 309.1h0M556.2 309.3h0M548.2 300.8h0M544.8 303.9h0M544.9 296.8h0M529.4 310.9h0M532.8 289.1h0M543.4 314.8h0M560.4 321.0h0M558.2 317.2h0M531.2 296.5h0M555.3 303.0h0M531.1 300.1h0M538.3 309.2h0M535.7 313.2h0M552.9 299.1h0M550.4 313.7h0M536.5 290.7h0M536.9 315.0h0M549.5 301.0h0M539.6 296.2h0M528.1 288.0h0M540.5 310.1h0M540.6 286.6h0M561.6 316.7h0M570.8 330.7h0M561.0 328.0h0M574.0 318.9h0M572.8 316.1h0M565.6 331.3h0M573.7 324.4h0M579.4 322.3h0M564.7 322.2h0M558.9 335.3h0M570.7 314.4h0M576.9 328.5h0M564.7 322.7h0M555.1 331.1h0M565.6 325.1h0M600.7 320.9h0M603.3 316.5h0M599.9 315.0h0M606.3 329.6h0M605.1 326.8h0M601.1 329.7h0M600.6 332.9h0M592.8 315.2h0M595.1 337.9h0M605.3 320.8h0M596.4 329.7h0M604.3 332.3h0M595.4 314.4h0M592.7 327.9h0M596.6 336.7h0M606.4 311.7h0M611.5 315.3h0M602.2 303.2h0M608.3 328.6h0M684.5 307.1h0M680.5 317.9h0M688.5 304.9h0M691.8 306.5h0M690.6 329.3h0M690.8 325.9h0M684.4 302.7h0M684.8 330.5h0M678.8 326.2h0M691.2 322.1h0M691.6 310.7h0M693.9 317.6h0M678.7 321.6h0M678.6 312.8h0M678.4 309.9h0M686.9 333.1h0M680.9 306.9h0M682.6 309.3h0M697.2 331.0h0M686.1 268.0h0M694.3 216.1h0M686.3 270.7h0M730.8 255.1h0M732.7 251.6h0M680.1 263.3h0M652.2 243.2h0M688.9 274.4h0M702.1 217.4h0M736.7 253.8h0M667.8 255.5h0M681.3 275.2h0M684.4 275.5h0M684.3 221.1h0M680.7 258.4h0M695.0 225.6h0M661.2 236.7h0M728.0 247.3h0M666.0 237.3h0M723.9 256.2h0M732.2 239.7h0M677.0 266.6h0M691.0 212.3h0M716.5 268.6h0M689.1 218.2h0M672.9 262.2h0M718.5 253.8h0M676.3 259.6h0M732.8 246.3h0M734.8 249.0h0M687.8 225.6h0M737.5 248.2h0M726.5 237.0h0M663.3 232.0h0M666.7 244.7h0M696.3 212.2h0M701.2 223.8h0M699.9 267.7h0M683.0 227.3h0M660.2 245.5h0M688.8 213.3h0M727.0 253.1h0M725.4 256.4h0M723.8 248.3h0M725.1 243.8h0M677.5 271.7h0M700.8 222.1h0M653.8 256.7h0M668.9 257.8h0M708.0 224.0h0M665.8 243.7h0M674.0 232.5h0M718.7 257.8h0M662.8 255.6h0M716.3 226.3h0M672.0 228.2h0M699.3 227.4h0M703.4 229.8h0M656.4 238.5h0M692.1 271.5h0M720.5 230.6h0M672.5 255.4h0M600.6 348.6h0M604.5 362.6h0M602.7 359.9h0M596.9 355.4h0M604.3 343.3h0M603.8 366.2h0M592.5 354.7h0M597.7 358.9h0M596.0 347.5h0M597.1 343.9h0M594.4 358.0h0M596.5 358.6h0M597.4 366.2h0M609.7 355.3h0M604.5 356.4h0M560.9 368.4h0M572.6 373.3h0M567.7 366.5h0M571.4 363.2h0M574.0 369.5h0M569.0 369.4h0M569.1 373.6h0M576.5 369.5h0M567.0 360.9h0M564.5 372.6h0M584.4 366.1h0M592.4 366.4h0M588.4 360.9h0M596.1 369.5h0M609.6 370.7h0M585.7 370.3h0M583.9 372.7h0M597.1 384.0h0M601.0 382.6h0M579.5 376.4h0M587.8 389.5h0M590.1 376.6h0M578.5 384.4h0M587.0 385.1h0M590.5 383.8h0M575.5 379.1h0M569.9 388.3h0M583.1 376.9h0M571.3 378.1h0M599.9 386.5h0M594.4 373.8h0M599.0 372.4h0M567.0 384.2h0M602.0 382.6h0M584.8 390.1h0M576.6 386.0h0M597.6 389.4h0M587.1 382.2h0M584.2 384.3h0M591.4 382.9h0M592.8 378.4h0M580.0 374.9h0M581.9 371.9h0M586.5 368.2h0M571.0 378.7h0M579.1 380.8h0M698.5 384.0h0M694.1 389.1h0M667.9 398.4h0M695.5 397.0h0M704.0 403.0h0M705.2 400.1h0M690.4 396.3h0M699.6 400.9h0M695.2 408.7h0M678.7 392.8h0M691.5 410.6h0M708.2 390.9h0M681.8 401.7h0M680.3 405.2h0M700.4 390.5h0M672.4 393.9h0M688.2 399.5h0M701.2 394.9h0M662.0 396.3h0M711.8 402.2h0M689.4 389.7h0M686.7 386.8h0M681.6 399.8h0M685.4 399.7h0M693.5 402.5h0M670.9 390.5h0M683.0 391.7h0M683.1 387.8h0M688.7 393.3h0M704.0 399.9h0M701.3 395.6h0M666.5 403.0h0M673.4 407.3h0M685.1 393.0h0M701.8 405.3h0M742.1 390.6h0M738.6 383.6h0M735.1 384.6h0M726.2 400.4h0M724.4 405.2h0M730.7 383.3h0M723.7 400.0h0M726.2 399.5h0M733.3 387.2h0M733.3 382.9h0M721.4 386.9h0M744.2 383.6h0M730.1 397.5h0M733.8 406.8h0M738.3 404.9h0M734.5 394.3h0M735.7 398.1h0M717.2 391.5h0M721.4 392.7h0M722.9 404.9h0M717.3 399.2h0M719.4 402.9h0M727.7 393.1h0M729.4 390.9h0M735.6 399.6h0M718.2 407.3h0M738.6 390.8h0M716.6 395.9h0M729.5 400.7h0M737.0 379.9h0M723.3 409.7h0M825.4 256.2h0M822.6 255.7h0M748.7 242.3h0M824.7 223.3h0M878.2 273.9h0M867.4 289.7h0M842.2 235.2h0M733.1 235.5h0M803.8 253.4h0M801.4 251.9h0M836.7 234.8h0M879.2 252.2h0M794.6 256.4h0M833.0 249.0h0M814.6 228.4h0M818.6 228.8h0M767.4 220.4h0M851.6 251.4h0M805.3 283.9h0M884.8 288.9h0M885.5 232.6h0M761.4 240.8h0M851.6 218.8h0M852.3 214.7h0M858.7 247.9h0M757.4 238.9h0M824.0 259.1h0M887.8 251.6h0M859.5 239.9h0M829.2 213.8h0M825.4 217.1h0M815.1 265.3h0M782.5 242.6h0M795.9 240.3h0M791.6 241.4h0M753.9 262.5h0M798.6 265.2h0M902.2 233.0h0M852.9 225.8h0M889.1 258.8h0M853.3 238.8h0M806.1 227.6h0M859.6 221.2h0M863.5 222.3h0M876.1 247.6h0M854.1 281.7h0M764.2 245.6h0M757.4 258.6h0M870.5 278.0h0M809.8 255.4h0M740.8 254.7h0M791.7 248.0h0M791.0 252.4h0M773.9 272.7h0M763.0 236.8h0M767.3 234.1h0M835.8 288.1h0M813.0 274.6h0M816.0 276.9h0M803.2 278.3h0M803.6 273.7h0M778.5 265.9h0M890.8 242.5h0M870.5 218.7h0M873.9 222.6h0M759.1 227.8h0M846.5 269.8h0M849.0 273.1h0M792.4 284.2h0M868.8 232.1h0M872.1 234.0h0M848.1 259.0h0M863.0 208.6h0M835.7 237.9h0M832.8 242.1h0M819.4 270.5h0M849.6 243.7h0M853.1 243.8h0M768.0 269.2h0M856.4 218.1h0M747.4 229.1h0M754.2 226.9h0M751.0 228.6h0M736.8 228.2h0M786.7 284.4h0M814.8 244.3h0M863.7 235.1h0M853.7 233.2h0M855.4 230.5h0M818.8 287.0h0M836.5 227.9h0M840.0 224.2h0M776.5 262.3h0M742.8 236.9h0M742.1 232.3h0M841.8 217.5h0M857.4 257.8h0M844.1 286.4h0M818.2 280.0h0M814.4 278.1h0M813.8 247.9h0M813.8 244.8h0M847.8 231.3h0M844.0 228.3h0M828.3 234.4h0M827.5 237.7h0M850.9 254.1h0M821.0 215.2h0M804.9 263.9h0M916.4 232.9h0M774.9 223.2h0M774.5 236.6h0M777.4 235.6h0M882.7 276.1h0M762.8 231.5h0M908.8 235.5h0M863.0 214.8h0M861.2 218.7h0M762.3 260.1h0M898.2 221.8h0M831.3 230.7h0M835.7 229.3h0M865.4 266.9h0M864.7 269.5h0M864.7 294.7h0M762.8 252.8h0M765.6 249.8h0M878.4 285.0h0M783.1 228.9h0M776.0 254.1h0M772.8 251.8h0M862.8 228.8h0M818.9 283.5h0M829.0 212.5h0M880.8 227.1h0M853.3 292.5h0M768.8 253.9h0M773.7 254.8h0M762.0 243.7h0M763.8 246.5h0M854.0 274.3h0M855.2 278.7h0M826.4 275.9h0M841.0 274.7h0M816.9 252.2h0M819.3 254.7h0M795.0 252.5h0M801.6 249.0h0M814.4 280.5h0M787.0 220.3h0M889.8 236.1h0M895.2 234.9h0M768.0 261.1h0M845.6 218.4h0M855.2 261.0h0M821.3 273.9h0M864.0 243.5h0M835.5 265.1h0M839.7 268.7h0M828.9 240.9h0M825.6 243.5h0M843.0 249.9h0M840.6 247.9h0M746.2 239.5h0M823.2 257.7h0M820.2 259.0h0M779.6 259.0h0M789.0 229.4h0M870.1 273.2h0M871.9 253.5h0M858.7 294.7h0M793.6 246.4h0M795.7 243.1h0M862.0 248.7h0M801.4 259.1h0M804.5 259.1h0M804.8 261.6h0M808.3 275.0h0M894.0 230.3h0M770.9 263.5h0M768.4 262.4h0M868.7 236.6h0M878.6 268.6h0M858.1 276.3h0M841.2 211.3h0M844.1 276.1h0M769.4 243.8h0M832.2 220.6h0M864.1 256.8h0M855.9 272.5h0M823.6 246.1h0M778.6 238.8h0M856.7 266.5h0M866.6 248.7h0M868.9 246.5h0M791.2 261.8h0M874.6 235.3h0M817.1 205.6h0M897.1 245.2h0M817.8 221.4h0M815.2 222.7h0M864.8 227.7h0M886.0 245.4h0M785.6 233.0h0M812.6 274.7h0M808.8 277.6h0M873.3 223.4h0M873.1 227.0h0M894.5 250.6h0M844.5 222.2h0M866.1 223.3h0M870.8 284.2h0M772.3 246.1h0M773.8 220.7h0M840.2 256.5h0M779.7 278.2h0M872.4 221.8h0M871.2 219.9h0M782.9 273.6h0M876.2 260.0h0M839.4 284.4h0M879.3 231.6h0M821.0 228.7h0M836.1 253.2h0M834.5 258.1h0M827.0 267.2h0M823.8 264.4h0M825.7 296.4h0M848.6 285.2h0M827.1 229.0h0M788.7 223.3h0M868.5 216.4h0M811.8 253.3h0M762.4 222.3h0M864.5 278.0h0M863.2 274.1h0M745.0 249.7h0M762.8 227.2h0M793.7 272.4h0M885.3 238.4h0M799.2 237.3h0M847.5 238.0h0M752.1 259.1h0M873.1 238.4h0M875.9 237.0h0M904.2 218.7h0M885.0 216.2h0M891.4 239.6h0M896.9 252.9h0M858.4 227.3h0M861.3 227.3h0M841.1 292.5h0M801.5 238.9h0M799.7 241.1h0M775.3 257.7h0M874.2 244.5h0M740.7 247.1h0M761.8 248.2h0M748.7 251.2h0M843.2 228.0h0M846.4 225.3h0M882.5 245.7h0M882.1 250.6h0M874.3 261.7h0M810.7 224.6h0M815.4 220.3h0M840.7 265.7h0M838.4 264.7h0M743.1 227.6h0M741.4 231.1h0M793.7 232.4h0M826.5 283.5h0M754.3 243.7h0M857.2 254.2h0M829.8 292.4h0M821.7 254.5h0M776.0 271.4h0M821.7 263.8h0M821.0 247.8h0M772.9 241.1h0M833.1 201.4h0M783.1 237.1h0M873.1 208.7h0M831.1 244.5h0M833.7 241.1h0M771.3 226.1h0M768.1 228.1h0M776.7 232.1h0M847.2 247.6h0M793.9 229.2h0M888.9 237.5h0M797.8 255.0h0M849.1 297.4h0M883.9 261.9h0M874.3 212.9h0M748.6 225.8h0M836.7 217.7h0M844.4 252.6h0M785.1 278.2h0M789.3 274.4h0M872.7 249.0h0M814.2 231.8h0M813.4 234.6h0M849.6 290.4h0M791.5 255.4h0M794.6 252.8h0M796.1 267.0h0M805.1 277.4h0M771.0 274.8h0M827.5 256.3h0M824.8 251.6h0M786.3 254.2h0M803.4 290.1h0M849.8 224.7h0M799.1 269.2h0M864.7 272.9h0M748.8 256.6h0M863.6 202.5h0M728.7 231.3h0M879.6 260.2h0M820.1 225.7h0M819.4 228.8h0M802.0 219.6h0M807.5 255.2h0M740.6 219.4h0M800.3 278.2h0M758.6 233.0h0M878.7 214.6h0M787.5 272.9h0M891.4 250.2h0M891.3 245.9h0M802.3 250.7h0M805.4 247.0h0M769.4 237.8h0M848.2 275.8h0M808.7 278.8h0M868.9 245.7h0M860.4 271.4h0M909.6 231.0h0M757.5 246.0h0M757.9 250.8h0M827.7 289.0h0M832.3 287.7h0M834.0 282.1h0M765.6 278.5h0M826.0 275.0h0M877.3 235.5h0M876.0 239.8h0M832.0 258.5h0M863.6 239.7h0M866.0 238.6h0M749.2 264.8h0M834.3 292.8h0M780.8 241.2h0M883.0 255.7h0M819.9 291.2h0M855.5 205.9h0M884.8 284.7h0M842.0 298.3h0M868.4 230.9h0M768.6 272.6h0M846.1 255.1h0M842.5 255.9h0M798.1 277.6h0M829.8 296.0h0M879.1 222.6h0M859.4 215.5h0M859.4 211.7h0M904.1 239.3h0M798.7 266.9h0M802.7 267.7h0M765.3 266.4h0M825.3 207.4h0M837.0 222.6h0M847.9 212.0h0M885.3 252.1h0M784.5 278.6h0M845.5 280.2h0M811.3 287.8h0M842.3 256.0h0M836.9 279.0h0M836.2 274.9h0M736.0 222.8h0M805.6 242.2h0M801.2 245.4h0M870.3 275.9h0M884.1 279.8h0M818.7 233.6h0M879.0 291.4h0M852.9 280.1h0M900.4 247.3h0M806.8 238.9h0M824.6 239.6h0M828.6 238.6h0M876.3 229.2h0M794.7 288.2h0M861.4 234.6h0M787.8 265.9h0M745.7 259.5h0M848.0 294.5h0M776.8 275.3h0M771.2 259.1h0M732.0 227.6h0M842.6 284.2h0M793.9 225.0h0M798.3 244.7h0M811.8 238.0h0M809.0 236.0h0M891.4 279.0h0M752.1 250.5h0M815.5 263.4h0M877.6 277.5h0M828.5 249.9h0M827.4 254.4h0M834.0 288.3h0M847.3 207.6h0M906.0 247.5h0M783.0 250.7h0M857.0 246.2h0M815.5 241.8h0M815.7 238.2h0M798.5 290.1h0M852.3 259.2h0M750.7 268.7h0M738.2 236.2h0M796.1 258.3h0M799.4 260.9h0M835.3 263.9h0M845.4 246.1h0M845.3 232.8h0M872.1 265.9h0M873.1 269.2h0M892.8 225.5h0M873.8 283.3h0M905.3 230.6h0M795.7 232.9h0M800.5 230.6h0M838.3 295.2h0M757.1 276.1h0M842.1 229.1h0M841.1 232.3h0M805.2 286.9h0M825.5 278.1h0M826.0 265.3h0M823.2 270.0h0M822.3 286.8h0M855.6 267.9h0M822.4 294.5h0M858.9 266.4h0M836.7 271.5h0M759.6 242.1h0M759.8 263.3h0M769.5 248.1h0M838.4 301.8h0M841.7 304.5h0M821.5 308.6h0M822.2 311.8h0M830.6 311.6h0M812.6 311.6h0M862.5 300.6h0M819.6 316.0h0M804.1 291.9h0M806.8 294.0h0M846.5 307.0h0M813.3 302.0h0M814.4 298.0h0M851.8 304.0h0M853.4 301.8h0M852.1 300.4h0M854.5 297.2h0M808.9 307.3h0M826.8 316.0h0M798.7 308.3h0M798.6 304.5h0M829.5 305.8h0M825.3 304.0h0M810.8 305.0h0M828.4 309.0h0M845.1 314.2h0M836.6 308.5h0M804.2 301.3h0M815.8 317.6h0M841.0 311.4h0M803.7 295.1h0M799.6 296.5h0M819.1 296.1h0M832.8 290.4h0M868.3 292.6h0M824.3 305.3h0M826.2 313.7h0M829.4 314.0h0M860.5 286.1h0M824.6 297.6h0M827.4 301.6h0M735.2 337.5h0M742.0 327.6h0M749.4 338.5h0M768.5 336.2h0M765.4 339.7h0M764.3 326.5h0M758.1 312.4h0M759.1 333.7h0M740.9 335.2h0M754.0 321.7h0M756.4 319.2h0M772.4 332.0h0M770.8 342.1h0M758.4 319.4h0M761.2 315.8h0M757.8 327.1h0M743.7 319.8h0M758.6 343.2h0M755.0 341.2h0M759.7 343.0h0M763.4 341.7h0M751.6 322.1h0M746.0 332.2h0M767.7 329.2h0M746.3 343.0h0M764.2 321.8h0M736.1 330.1h0M768.6 318.8h0M771.6 322.1h0M773.9 327.0h0M769.4 326.8h0M743.4 337.7h0M745.2 341.6h0M769.2 342.8h0M759.1 325.1h0M775.7 319.0h0M754.3 317.0h0M753.7 329.9h0M774.5 325.6h0M762.0 332.3h0M766.1 335.3h0M774.4 335.9h0M763.2 340.0h0M732.1 332.7h0M750.8 320.5h0M757.9 394.4h0M757.2 402.5h0M754.9 391.1h0M746.8 388.2h0M750.2 391.0h0M753.2 403.2h0M753.2 398.7h0M761.4 401.5h0M747.7 404.4h0M751.3 388.4h0M749.9 410.2h0M744.0 400.0h0M751.0 393.8h0M754.8 387.2h0M759.4 408.9h0M759.3 399.3h0M681.8 393.1h0M678.5 396.3h0M683.9 417.0h0M679.7 412.6h0M676.5 415.1h0M674.5 384.2h0M687.0 413.8h0M691.1 382.2h0M677.0 418.5h0M667.0 389.0h0M681.4 384.7h0M683.2 389.2h0M669.3 391.8h0M665.3 398.9h0M681.9 411.0h0M705.9 395.1h0M697.6 404.4h0M705.7 408.2h0M707.5 404.3h0M722.3 401.7h0M717.8 382.1h0M711.1 398.1h0M705.7 388.1h0M701.9 388.9h0M711.7 391.5h0M708.8 383.4h0M714.0 387.9h0M772.7 394.6h0M769.0 408.3h0M766.1 406.6h0M772.4 406.8h0M769.7 400.7h0M756.7 383.2h0M745.0 379.8h0M768.1 395.2h0M733.3 393.0h0M759.7 388.3h0M748.1 395.0h0M762.9 397.5h0M748.3 384.4h0M749.8 380.9h0M765.2 404.6h0M776.5 398.9h0M732.0 459.9h0M736.2 459.6h0M726.9 469.0h0M749.4 447.6h0M738.7 463.3h0M739.4 447.3h0M735.5 446.5h0M733.9 453.5h0M752.7 453.7h0M755.0 457.1h0M734.5 446.6h0M734.7 443.5h0M724.5 463.4h0M728.3 464.4h0M741.0 469.5h0M743.6 455.5h0M726.5 456.0h0M743.6 467.6h0M743.2 441.3h0M732.0 468.3h0M741.0 450.9h0M740.1 444.2h0M739.8 440.0h0M736.2 456.1h0M736.2 453.4h0M729.9 440.0h0M734.9 476.6h0M734.7 463.5h0M730.1 461.7h0M748.4 456.2h0M749.5 460.1h0M743.8 437.4h0M735.8 451.8h0M744.2 462.0h0M729.6 457.6h0M734.6 433.8h0M750.5 461.6h0M733.1 493.4h0M743.9 484.5h0M732.2 490.7h0M745.2 475.8h0M735.5 489.3h0M734.0 483.4h0M728.3 475.6h0M709.4 485.2h0M721.3 480.5h0M718.5 478.2h0M715.0 476.1h0M754.8 479.1h0M707.8 476.9h0M715.3 487.5h0M722.6 486.1h0M727.4 484.0h0M735.6 497.4h0M738.0 492.8h0M723.2 493.7h0M712.0 473.1h0M723.1 468.2h0M724.4 480.8h0M712.4 482.4h0M717.0 481.6h0M736.1 483.7h0M740.7 483.7h0M708.2 480.3h0M745.5 473.8h0M741.2 473.2h0M716.1 488.1h0M729.5 482.8h0M717.7 470.6h0M712.4 479.1h0M712.1 474.7h0M728.9 471.9h0M732.4 473.4h0M751.6 482.4h0M751.3 473.1h0M726.1 490.0h0M725.4 486.9h0M734.9 479.7h0M809.9 478.8h0M811.3 482.5h0M779.4 467.3h0M791.0 471.3h0M765.9 473.8h0M800.7 488.5h0M768.5 485.4h0M784.1 485.8h0M776.1 480.9h0M779.3 483.2h0M791.7 480.4h0M768.5 492.4h0M765.4 493.1h0M789.0 467.8h0M792.1 465.9h0M790.1 488.7h0M793.2 488.6h0M797.0 483.3h0M793.1 483.3h0M796.5 465.9h0M784.4 494.1h0M772.7 493.2h0M771.4 489.5h0M799.1 493.6h0M815.8 491.5h0M803.4 484.1h0M775.3 486.5h0M819.4 486.0h0M806.1 490.8h0M803.9 493.2h0M793.0 495.8h0M813.5 481.5h0M816.4 485.0h0M810.8 488.8h0M800.8 483.0h0M800.7 474.6h0M782.9 477.9h0M781.0 479.2h0M795.3 474.3h0M770.8 477.0h0M775.5 472.3h0M772.7 470.0h0M803.1 469.8h0M771.9 465.1h0M782.7 470.1h0M805.1 472.6h0M790.8 489.5h0M792.4 492.9h0M786.3 481.6h0M776.6 484.3h0M773.1 481.5h0M780.8 495.8h0M783.0 466.6h0M786.3 465.4h0M798.9 460.3h0M803.8 493.3h0M799.9 491.5h0M800.5 466.7h0M798.4 469.6h0M800.5 496.6h0M764.7 469.7h0M777.3 462.8h0M778.3 490.8h0M795.4 479.9h0M795.8 462.5h0M796.4 487.2h0M793.9 491.1h0M761.2 492.8h0M773.0 480.6h0M713.8 504.5h0M711.1 506.0h0M754.6 499.4h0M726.2 501.3h0M703.7 504.3h0M700.5 507.2h0M711.1 493.8h0M748.0 499.6h0M707.0 514.4h0M710.7 512.3h0M704.9 514.0h0M703.7 492.8h0M715.8 511.1h0M724.3 519.6h0M723.1 512.5h0M701.1 500.0h0M745.2 513.5h0M716.8 521.9h0M717.2 499.5h0M758.4 506.5h0M713.8 496.6h0M711.3 499.3h0M749.7 503.7h0M751.1 508.6h0M748.8 494.3h0M713.0 524.0h0M736.7 507.1h0M750.7 514.6h0M730.6 521.4h0M730.1 517.1h0M720.9 508.1h0M731.6 507.0h0M703.2 522.3h0M741.7 496.4h0M720.2 514.4h0M717.2 512.9h0M717.1 510.1h0M714.1 508.3h0M707.6 502.2h0M739.9 512.8h0M741.1 508.2h0M712.5 517.1h0M712.1 514.8h0M710.2 521.1h0M714.1 510.0h0M719.8 502.4h0M745.0 503.0h0M749.2 509.8h0M734.4 514.6h0M727.9 510.5h0M733.0 523.9h0M760.8 507.7h0M733.8 496.7h0M729.9 497.3h0M710.5 496.9h0M751.1 503.0h0M700.2 507.7h0M751.0 498.3h0M702.4 487.3h0M736.5 513.3h0M727.6 504.9h0M753.9 512.1h0M718.4 494.5h0M699.6 533.6h0M697.9 531.2h0M712.5 536.0h0M694.8 512.3h0M704.4 544.5h0M707.3 546.9h0M696.8 540.5h0M700.0 518.1h0M703.9 527.5h0M714.0 537.9h0M715.5 535.7h0M694.8 522.9h0M706.3 552.0h0M703.1 533.4h0M721.3 527.5h0M699.1 544.2h0M700.6 547.0h0M707.8 537.0h0M705.7 523.4h0M707.9 543.9h0M706.1 541.0h0M715.8 548.4h0M720.0 537.3h0M707.6 529.5h0M710.1 531.3h0M702.9 556.0h0M698.5 519.9h0M708.4 555.7h0M611.0 190.2h0M607.3 195.8h0M610.7 201.4h0M600.7 190.0h0M605.6 192.8h0M606.4 189.6h0M615.0 195.1h0M604.4 185.4h0M601.8 196.4h0M734.2 70.6h0M736.1 68.4h0M726.9 73.0h0M730.6 109.1h0M733.6 111.0h0M727.4 180.6h0M729.4 178.4h0M724.2 194.1h0M715.5 188.2h0M728.7 192.9h0M728.5 197.5h0M725.3 174.3h0M734.5 200.9h0M718.4 180.8h0M717.8 183.6h0M712.8 180.7h0M711.6 177.4h0M718.9 196.1h0M723.7 196.3h0M720.4 176.8h0M714.9 174.1h0M711.0 173.1h0M717.9 202.0h0M729.2 187.7h0M735.8 186.4h0M722.8 198.7h0M706.7 181.7h0M549.2 216.1h0M552.6 217.4h0M536.3 213.5h0M556.7 216.4h0M543.0 214.1h0M539.2 220.6h0M549.5 219.8h0M572.5 216.6h0M570.2 211.3h0M578.2 212.8h0M786.6 61.3h0M785.3 66.0h0M778.7 48.8h0M769.3 53.1h0M771.4 46.8h0M786.3 53.1h0M793.9 47.2h0M795.0 54.0h0M799.9 70.3h0M801.9 67.3h0M790.9 66.5h0M795.7 71.6h0M783.0 67.1h0M833.0 64.3h0M836.1 55.7h0M831.9 54.2h0M831.9 50.6h0M824.7 61.7h0M824.3 65.2h0M830.4 75.5h0M836.2 74.9h0M824.6 56.4h0M827.8 70.4h0M827.7 79.8h0M827.8 60.9h0M829.2 53.6h0M882.6 102.3h0M879.7 96.4h0M879.1 93.5h0M874.1 90.1h0M886.5 93.6h0M887.9 101.9h0M880.9 89.4h0M875.1 98.6h0M850.3 108.3h0M840.9 120.8h0M843.7 125.5h0M851.8 114.7h0M852.7 118.9h0M846.5 106.7h0M843.6 103.9h0M852.8 117.3h0M840.5 123.1h0M842.6 121.3h0M850.3 125.1h0M845.4 111.6h0M890.3 144.2h0M932.1 134.8h0M892.3 129.8h0M885.1 117.1h0M899.3 137.2h0M899.0 143.3h0M925.6 102.1h0M918.9 106.2h0M928.2 108.4h0M923.1 108.8h0M879.0 121.6h0M911.9 101.7h0M897.0 102.3h0M806.6 135.6h0M839.9 182.1h0M863.2 167.3h0M865.1 164.3h0M885.6 165.8h0M839.5 169.0h0M834.1 181.2h0M894.9 163.8h0M871.2 153.8h0M852.0 168.9h0M847.2 166.3h0M900.1 169.9h0M870.2 171.0h0M871.5 167.5h0M884.8 195.2h0M882.0 191.8h0M860.6 192.2h0M890.6 185.4h0M878.0 178.6h0M899.8 174.8h0M931.5 168.6h0M913.9 172.6h0M867.8 175.0h0M868.6 197.0h0M857.1 180.3h0M861.0 177.2h0M833.5 167.1h0M830.5 168.2h0M902.6 182.9h0M906.6 160.3h0M857.8 149.4h0M904.7 173.5h0M837.9 157.8h0M887.7 174.5h0M848.3 186.1h0M846.6 189.1h0M835.0 170.6h0M883.0 153.5h0M890.9 149.4h0M902.4 155.7h0M863.4 147.6h0M910.5 182.8h0M872.4 141.2h0M897.3 156.3h0M857.4 164.9h0M871.9 166.1h0M867.6 164.6h0M824.6 180.0h0M847.2 165.9h0M856.2 169.6h0M859.7 171.6h0M897.4 150.6h0M862.3 186.1h0M879.4 172.4h0M849.9 157.0h0M876.9 141.8h0M843.2 153.5h0M876.7 165.6h0M838.8 173.5h0M879.0 197.3h0M880.5 200.8h0M881.1 182.9h0M873.2 153.9h0M884.6 178.3h0M852.8 143.8h0M917.6 168.1h0M862.1 144.4h0M865.3 141.6h0M908.0 173.1h0M859.0 156.6h0M860.9 154.2h0M903.7 158.8h0M906.1 157.4h0M898.3 172.3h0M817.6 176.4h0M896.1 185.6h0M909.0 155.8h0M874.3 180.1h0M856.0 178.0h0M907.5 166.1h0M906.0 170.7h0M892.9 189.3h0M889.7 163.7h0M887.2 166.7h0M880.4 201.4h0M864.7 187.5h0M832.8 175.6h0M865.8 170.1h0M866.5 152.8h0M898.6 163.3h0M899.9 166.7h0M891.5 177.0h0M901.3 186.1h0M915.5 178.4h0M847.4 149.4h0M894.9 178.2h0M774.0 176.1h0M797.6 163.4h0M794.8 161.7h0M793.8 168.7h0M789.7 170.4h0M799.7 164.2h0M776.4 172.0h0M781.1 170.8h0M786.5 176.3h0M782.4 162.9h0M791.4 162.5h0M774.3 169.7h0M779.6 179.2h0M784.0 169.1h0M819.3 158.3h0M771.0 164.6h0M811.6 163.4h0M757.3 202.8h0M797.7 195.1h0M771.5 211.8h0M775.5 209.8h0M811.9 191.8h0M774.7 195.9h0M785.8 212.7h0M842.4 197.2h0M841.2 201.5h0M819.2 200.8h0M778.5 193.2h0M783.0 193.6h0M785.0 201.8h0M788.3 201.7h0M795.6 185.5h0M789.8 192.3h0M811.4 197.4h0M808.0 190.9h0M749.0 203.2h0M826.6 196.9h0M824.5 194.6h0M795.5 207.3h0M780.5 205.8h0M778.9 203.1h0M794.3 200.6h0M791.1 199.1h0M774.3 192.6h0M764.6 200.7h0M832.7 195.4h0M767.5 203.6h0M782.1 183.4h0M781.0 212.3h0M789.6 182.8h0M771.6 217.0h0M742.4 201.6h0M764.6 194.5h0M792.4 214.3h0M807.8 183.3h0M760.0 197.1h0M788.5 188.0h0M782.5 189.4h0M845.2 192.5h0M843.8 196.3h0M856.6 198.9h0M768.4 194.2h0M811.5 204.9h0M816.8 193.3h0M814.7 183.5h0M837.0 205.0h0M833.5 206.3h0M841.2 191.0h0M823.5 215.8h0M826.7 218.7h0M785.4 198.4h0M786.8 192.9h0M820.9 206.0h0M793.1 195.8h0M805.8 207.6h0M752.1 199.4h0M824.9 201.4h0M803.0 185.7h0M774.0 185.1h0M766.0 216.5h0M768.3 220.0h0M875.2 203.0h0M864.7 196.2h0M889.1 200.4h0M891.0 203.4h0M882.0 206.1h0M891.3 212.6h0M532.1 227.8h0M599.3 223.4h0M603.1 225.7h0M594.9 240.8h0M598.3 241.0h0M591.2 235.7h0M598.6 234.1h0M610.0 227.8h0M604.2 231.1h0M600.2 241.6h0M619.2 257.1h0M620.4 253.2h0M617.4 253.5h0M626.0 253.0h0M613.6 272.5h0M602.5 267.6h0M596.1 272.9h0M598.5 269.1h0M600.2 262.9h0M609.1 267.1h0M636.4 269.5h0M636.0 266.4h0M634.0 277.4h0M637.7 276.1h0M629.0 270.7h0M645.1 274.0h0M631.4 265.3h0M628.9 264.0h0M639.2 271.5h0M641.7 273.6h0M629.2 296.7h0M624.1 296.8h0M628.6 291.9h0M629.8 288.4h0M624.3 284.4h0M625.2 288.3h0M668.4 326.7h0M663.3 332.3h0M698.5 312.0h0M696.7 314.7h0M725.9 291.7h0M725.4 297.3h0M720.6 298.8h0M726.3 303.9h0M718.5 286.7h0M726.7 287.2h0M709.5 298.6h0M729.3 295.2h0M729.6 292.4h0M720.3 318.6h0M728.5 323.8h0M736.5 320.4h0M737.0 323.6h0M729.3 326.9h0M722.0 326.7h0M656.1 234.2h0M642.6 247.3h0M648.3 240.2h0M650.9 237.7h0M720.8 358.5h0M719.2 355.7h0M714.6 365.4h0M724.7 362.5h0M718.8 372.8h0M722.7 374.4h0M727.5 375.7h0M718.7 360.5h0M643.2 407.1h0M648.9 407.1h0M645.2 404.1h0M657.7 407.3h0M656.6 410.4h0M943.6 224.4h0M936.8 231.1h0M956.4 228.9h0M941.2 228.2h0M950.8 226.6h0M946.6 236.1h0M952.4 221.9h0M949.2 223.3h0M958.4 225.7h0M952.5 225.4h0M741.6 304.5h0M741.2 309.1h0M745.7 300.6h0M748.5 309.8h0M743.9 312.0h0M794.0 352.6h0M797.0 362.4h0M787.3 351.2h0M785.1 364.0h0M795.5 366.8h0M803.5 355.6h0M788.9 355.5h0M785.7 358.4h0M789.1 367.8h0M871.2 397.4h0M872.0 401.3h0M644.9 422.0h0M659.6 416.9h0M645.0 416.5h0M648.5 417.0h0M642.7 401.0h0M641.0 412.4h0M666.3 420.5h0M666.0 417.3h0M671.3 426.2h0M669.2 430.9h0M661.5 426.6h0M672.4 424.1h0M666.5 435.1h0M695.2 420.9h0M681.5 420.7h0M679.5 423.4h0M689.4 435.1h0M685.4 456.1h0M700.7 444.6h0M676.3 450.8h0M674.0 452.7h0M702.3 450.4h0M706.4 450.1h0M692.2 460.2h0M676.1 440.8h0M684.8 447.8h0M681.3 448.7h0M685.3 468.5h0M694.8 451.0h0M699.7 458.4h0M675.2 462.5h0M703.0 462.5h0M677.0 444.3h0M684.7 440.3h0M688.4 446.5h0M678.9 446.5h0M677.9 449.1h0M693.5 438.0h0M698.7 466.3h0M690.0 454.3h0M690.2 452.1h0M706.3 439.3h0M702.5 440.3h0M804.5 511.8h0M815.1 512.0h0M798.1 502.5h0M802.6 501.4h0M791.8 501.6h0M798.8 511.2h0M801.7 503.5h0M694.3 481.1h0M700.7 478.8h0M701.7 470.2h0M700.7 472.2h0M671.0 481.4h0M664.8 496.9h0M659.5 488.8h0M671.7 496.1h0M673.5 484.2h0M668.8 486.4h0M663.0 494.1h0M662.0 482.0h0M663.3 478.9h0M676.6 491.2h0M677.4 510.9h0M680.6 507.2h0M679.9 502.8h0M676.5 502.0h0M677.9 516.2h0M668.7 498.7h0M682.4 506.8h0M671.0 506.9h0M675.5 504.6h0M684.8 516.2h0M680.4 532.1h0M683.6 534.9h0M686.1 524.1h0M675.8 524.9h0M687.3 534.4h0M681.4 528.4h0M734.4 534.3h0M733.3 540.7h0M733.1 546.0h0M723.7 539.0h0M747.5 534.4h0M751.2 156.0h0M750.9 167.3h0M567.1 302.3h0M563.4 294.0h0M565.9 292.3h0" stroke="#49bac1" stroke-width="5.2" stroke-linecap="round" fill="none"/>
<path d="M718.7 105.7h0M567.5 238.5h0M675.8 242.9h0M696.0 263.2h0M761.7 216.9h0M697.3 304.7h0M788.3 233.4h0M742.7 491.7h0M742.5 504.6h0M749.0 462.2h0M568.8 275.9h0M693.1 260.1h0M868.5 156.5h0M736.8 490.6h0M803.6 317.4h0M786.1 238.6h0M728.3 444.5h0M800.2 91.1h0M763.1 206.1h0M762.9 394.1h0M707.5 507.1h0M569.0 230.0h0M559.3 173.5h0M711.5 106.6h0M785.7 111.2h0M854.6 242.9h0M728.7 523.8h0M586.3 371.5h0M879.4 230.4h0M861.2 265.0h0M812.0 293.3h0M716.2 391.4h0M903.0 131.6h0M839.4 287.6h0M875.3 232.3h0M849.2 417.7h0M666.0 396.5h0M709.6 550.6h0M786.1 159.3h0M895.9 158.9h0M750.1 395.5h0M791.8 362.3h0M788.1 361.0h0M699.4 387.9h0M552.5 304.8h0M895.8 197.2h0M708.8 525.6h0M566.5 250.5h0M754.0 323.2h0M959.3 211.7h0M584.1 242.0h0M702.2 255.5h0M598.3 336.2h0M812.0 161.1h0M727.7 408.2h0M803.4 166.6h0M616.2 258.5h0M689.7 314.6h0M779.9 46.6h0M805.4 490.6h0M849.3 424.9h0M694.6 257.3h0M601.0 310.3h0M616.9 203.6h0M694.3 468.8h0M872.4 252.5h0M536.2 245.7h0M845.3 268.2h0M613.4 293.5h0M948.0 201.1h0M829.4 280.0h0M671.9 403.7h0M645.5 238.4h0M770.4 128.0h0M774.9 123.0h0M831.1 440.6h0M796.0 293.6h0M719.1 251.2h0M807.6 88.3h0M663.2 499.2h0M783.5 90.7h0M870.9 244.4h0M690.3 444.9h0M725.8 145.7h0M940.6 218.6h0M755.9 213.0h0M711.1 250.8h0M841.5 250.4h0M686.5 317.9h0M686.9 314.6h0M766.2 264.0h0M555.3 307.1h0M754.5 382.8h0M573.7 266.2h0M668.2 521.1h0M732.7 512.1h0M726.2 439.9h0M675.1 252.9h0M740.2 386.9h0M917.0 159.2h0M724.7 505.3h0M794.7 298.7h0M809.4 316.1h0M770.0 266.8h0M679.3 271.0h0M672.1 492.0h0M807.5 282.5h0M773.2 105.2h0M607.1 294.5h0M672.4 287.3h0M572.6 251.2h0M678.5 242.1h0M576.6 373.3h0M555.2 210.8h0M699.1 529.3h0M573.3 383.0h0M872.9 409.0h0M726.9 358.4h0M720.0 489.6h0M796.8 223.7h0M694.6 519.8h0M783.8 138.6h0M772.8 90.3h0M736.8 469.9h0M550.5 206.5h0M778.8 139.1h0M837.1 164.8h0M695.4 446.1h0M727.8 134.8h0M612.8 366.0h0M786.2 476.1h0M791.9 478.2h0M822.2 281.7h0M541.0 254.2h0M830.6 265.8h0M670.9 456.9h0M857.5 415.3h0M630.6 328.5h0M900.4 111.7h0M830.0 437.2h0M804.9 114.3h0M793.7 249.5h0M726.9 536.7h0M754.0 254.0h0M915.7 150.2h0M717.1 543.2h0M901.5 134.9h0M572.2 261.5h0M817.9 242.1h0M675.0 242.5h0M767.1 124.4h0M602.0 392.5h0M910.7 240.2h0M882.2 212.1h0M677.4 230.2h0M725.4 413.8h0M815.0 224.6h0M551.5 266.6h0M746.5 327.2h0M713.1 237.7h0M752.6 539.2h0M612.7 345.7h0M847.9 280.2h0M870.2 156.6h0M561.4 194.9h0M807.2 483.3h0M557.4 306.6h0M538.0 232.9h0M736.6 538.4h0M872.5 270.1h0M866.7 210.3h0" stroke="#e76f69" stroke-width="5.2" stroke-linecap="round" fill="none"/>
<line x1="492.1" y1="18.5" x2="492.1" y2="581.8" stroke="#8c8c8c" stroke-width="2"/>
<line x1="491.1" y1="580.8" x2="981" y2="580.8" stroke="#8c8c8c" stroke-width="2"/>
<line x1="488.6" y1="124" x2="491.5" y2="124" stroke="#777" stroke-width="1.4"/>
<text y="130.3" font-size="17.5" fill="#3c3c3c" stroke="#3c3c3c"><tspan x="469.2" textLength="18" lengthAdjust="spacingAndGlyphs">25</tspan></text>
<line x1="488.6" y1="281" x2="491.5" y2="281" stroke="#777" stroke-width="1.4"/>
<text y="287.3" font-size="17.5" fill="#3c3c3c" stroke="#3c3c3c"><tspan x="478.2" textLength="9" lengthAdjust="spacingAndGlyphs">0</tspan></text>
<line x1="488.6" y1="437.5" x2="491.5" y2="437.5" stroke="#777" stroke-width="1.4"/>
<text y="443.8" font-size="17.5" fill="#3c3c3c" stroke="#3c3c3c"><tspan x="459.8" textLength="9.2" lengthAdjust="spacingAndGlyphs">-</tspan><tspan x="469.2" textLength="18" lengthAdjust="spacingAndGlyphs">25</tspan></text>
<line x1="606.25" y1="581.5" x2="606.25" y2="584.5" stroke="#777" stroke-width="1.4"/>
<text y="601.6" font-size="17.5" fill="#3c3c3c" stroke="#3c3c3c"><tspan x="592.55" textLength="9.2" lengthAdjust="spacingAndGlyphs">-</tspan><tspan x="601.95" textLength="18" lengthAdjust="spacingAndGlyphs">20</tspan></text>
<line x1="737" y1="581.5" x2="737" y2="584.5" stroke="#777" stroke-width="1.4"/>
<text y="601.6" font-size="17.5" fill="#3c3c3c" stroke="#3c3c3c"><tspan x="732.5" textLength="9" lengthAdjust="spacingAndGlyphs">0</tspan></text>
<line x1="867.3" y1="581.5" x2="867.3" y2="584.5" stroke="#777" stroke-width="1.4"/>
<text y="601.6" font-size="17.5" fill="#3c3c3c" stroke="#3c3c3c"><tspan x="858.3" textLength="18" lengthAdjust="spacingAndGlyphs">20</tspan></text>
<text x="738" y="620" font-size="18" fill="#484848" stroke="#484848" text-anchor="middle" textLength="56" lengthAdjust="spacingAndGlyphs">tSNE_1</text>
<text transform="translate(460.2 293.4) rotate(-90)" font-size="18" fill="#484848" stroke="#484848" text-anchor="middle" textLength="57" lengthAdjust="spacingAndGlyphs">tSNE_2</text>
<circle cx="888" cy="497" r="14.2" fill="#e97e6f"/>
<circle cx="888" cy="541.2" r="14.2" fill="#52bec6"/>
<text x="916.2" y="505.6" font-size="21" fill="#222" stroke="#222" textLength="44.5" lengthAdjust="spacingAndGlyphs">WT1</text>
<text x="916.2" y="549.8" font-size="21" fill="#222" stroke="#222" textLength="45.5" lengthAdjust="spacingAndGlyphs">WT2</text>
</g>
<g id="panel-c">
<text x="996" y="29.2" font-size="33" fill="#000" stroke="#000" font-weight="bold">c</text>
<text x="1094.3" y="53.8" font-size="14.6" fill="#333" stroke="#333" text-anchor="end">_#2</text>
<circle cx="1060" cy="47.8" r="11.6" fill="#ec6bd6"/>
<line x1="1098.5" y1="47.8" x2="1103" y2="47.8" stroke="#444" stroke-width="1.6"/>
<text x="1094.3" y="93" font-size="14.6" fill="#333" stroke="#333" text-anchor="end">_#1</text>
<circle cx="1060" cy="87" r="11.6" fill="#ec6bd6"/>
<line x1="1098.5" y1="87" x2="1103" y2="87" stroke="#444" stroke-width="1.6"/>
<text x="1094.3" y="132.2" font-size="14.6" fill="#333" stroke="#333" text-anchor="end">_#2</text>
<circle cx="1060" cy="126.2" r="11.6" fill="#a68cf7"/>
<line x1="1098.5" y1="126.2" x2="1103" y2="126.2" stroke="#444" stroke-width="1.6"/>
<text x="1094.3" y="171.4" font-size="14.6" fill="#333" stroke="#333" text-anchor="end">_#1</text>
<circle cx="1060" cy="165.4" r="11.6" fill="#a68cf7"/>
<line x1="1098.5" y1="165.4" x2="1103" y2="165.4" stroke="#444" stroke-width="1.6"/>
<text x="1094.3" y="210.6" font-size="14.6" fill="#333" stroke="#333" text-anchor="end">_#2</text>
<circle cx="1060" cy="204.6" r="11.6" fill="#51b3e8"/>
<line x1="1098.5" y1="204.6" x2="1103" y2="204.6" stroke="#444" stroke-width="1.6"/>
<text x="1094.3" y="249.8" font-size="14.6" fill="#333" stroke="#333" text-anchor="end">_#1</text>
<circle cx="1060" cy="243.8" r="11.6" fill="#51b3e8"/>
<line x1="1098.5" y1="243.8" x2="1103" y2="243.8" stroke="#444" stroke-width="1.6"/>
<text x="1094.3" y="289" font-size="14.6" fill="#333" stroke="#333" text-anchor="end">_#2</text>
<circle cx="1060" cy="283" r="11.6" fill="#55bd96"/>
<line x1="1098.5" y1="283" x2="1103" y2="283" stroke="#444" stroke-width="1.6"/>
<text x="1094.3" y="328.2" font-size="14.6" fill="#333" stroke="#333" text-anchor="end">_#1</text>
<circle cx="1060" cy="322.2" r="11.6" fill="#55bd96"/>
<line x1="1098.5" y1="322.2" x2="1103" y2="322.2" stroke="#444" stroke-width="1.6"/>
<text x="1094.3" y="367.4" font-size="14.6" fill="#333" stroke="#333" text-anchor="end">_#2</text>
<circle cx="1060" cy="361.4" r="11.6" fill="#6db327"/>
<line x1="1098.5" y1="361.4" x2="1103" y2="361.4" stroke="#444" stroke-width="1.6"/>
<text x="1094.3" y="406.6" font-size="14.6" fill="#333" stroke="#333" text-anchor="end">_#1</text>
<circle cx="1060" cy="400.6" r="11.6" fill="#6db327"/>
<line x1="1098.5" y1="400.6" x2="1103" y2="400.6" stroke="#444" stroke-width="1.6"/>
<text x="1094.3" y="445.8" font-size="14.6" fill="#333" stroke="#333" text-anchor="end">_#2</text>
<circle cx="1060" cy="439.8" r="11.6" fill="#c09b24"/>
<line x1="1098.5" y1="439.8" x2="1103" y2="439.8" stroke="#444" stroke-width="1.6"/>
<text x="1094.3" y="485" font-size="14.6" fill="#333" stroke="#333" text-anchor="end">_#1</text>
<circle cx="1060" cy="479" r="11.6" fill="#c09b24"/>
<line x1="1098.5" y1="479" x2="1103" y2="479" stroke="#444" stroke-width="1.6"/>
<text x="1094.3" y="524.2" font-size="14.6" fill="#333" stroke="#333" text-anchor="end">_#2</text>
<circle cx="1060" cy="518.2" r="11.6" fill="#ee7b70"/>
<line x1="1098.5" y1="518.2" x2="1103" y2="518.2" stroke="#444" stroke-width="1.6"/>
<text x="1094.3" y="563.4" font-size="14.6" fill="#333" stroke="#333" text-anchor="end">_#1</text>
<circle cx="1060" cy="557.4" r="11.6" fill="#ee7b70"/>
<line x1="1098.5" y1="557.4" x2="1103" y2="557.4" stroke="#444" stroke-width="1.6"/>
<circle cx="1113.5" cy="47.8" r="3" fill="#b06a68"/>
<circle cx="1131.56" cy="47.8" r="1" fill="#ededed"/>
<circle cx="1149.62" cy="47.8" r="1.5" fill="#a9a5a5"/>
<circle cx="1167.68" cy="47.8" r="4.7" fill="#e3261c"/>
<circle cx="1185.74" cy="47.8" r="3" fill="#e3261c"/>
<circle cx="1203.8" cy="47.8" r="1.5" fill="#e6e6e6"/>
<circle cx="1221.86" cy="47.8" r="4.7" fill="#cf4038"/>
<circle cx="1239.92" cy="47.8" r="1" fill="#ededed"/>
<circle cx="1257.98" cy="47.8" r="1" fill="#ededed"/>
<circle cx="1276.04" cy="47.8" r="2.2" fill="#a9a5a5"/>
<circle cx="1294.1" cy="47.8" r="2.2" fill="#a9a5a5"/>
<circle cx="1312.16" cy="47.8" r="2.2" fill="#b06a68"/>
<circle cx="1330.22" cy="47.8" r="1.5" fill="#a9a5a5"/>
<circle cx="1348.28" cy="47.8" r="1.5" fill="#a9a5a5"/>
<circle cx="1366.34" cy="47.8" r="2.2" fill="#a9a5a5"/>
<circle cx="1384.4" cy="47.8" r="1.5" fill="#e6e6e6"/>
<circle cx="1402.46" cy="47.8" r="2.2" fill="#b06a68"/>
<circle cx="1420.52" cy="47.8" r="2.2" fill="#a9a5a5"/>
<circle cx="1438.58" cy="47.8" r="2.2" fill="#a9a5a5"/>
<circle cx="1456.64" cy="47.8" r="1" fill="#ededed"/>
<circle cx="1474.7" cy="47.8" r="1.5" fill="#a9a5a5"/>
<circle cx="1492.76" cy="47.8" r="1" fill="#ededed"/>
<circle cx="1510.82" cy="47.8" r="1" fill="#ededed"/>
<circle cx="1528.88" cy="47.8" r="3" fill="#b06a68"/>
<circle cx="1546.94" cy="47.8" r="1.5" fill="#a9a5a5"/>
<circle cx="1565" cy="47.8" r="2.2" fill="#b06a68"/>
<circle cx="1583.06" cy="47.8" r="1" fill="#ededed"/>
<circle cx="1601.12" cy="47.8" r="4.7" fill="#cf4038"/>
<circle cx="1113.5" cy="87" r="3" fill="#4a3fd6"/>
<circle cx="1131.56" cy="87" r="1.5" fill="#a5a5a9"/>
<circle cx="1149.62" cy="87" r="1.5" fill="#a5a5a9"/>
<circle cx="1167.68" cy="87" r="4.7" fill="#2016e8"/>
<circle cx="1185.74" cy="87" r="3" fill="#2016e8"/>
<circle cx="1203.8" cy="87" r="1.5" fill="#e6e6e6"/>
<circle cx="1221.86" cy="87" r="3.8" fill="#4a3fd6"/>
<circle cx="1239.92" cy="87" r="1" fill="#ededed"/>
<circle cx="1257.98" cy="87" r="1" fill="#ededed"/>
<circle cx="1276.04" cy="87" r="2.2" fill="#2016e8"/>
<circle cx="1294.1" cy="87" r="1.5" fill="#a5a5a9"/>
<circle cx="1312.16" cy="87" r="1.5" fill="#a5a5a9"/>
<circle cx="1330.22" cy="87" r="1.5" fill="#a5a5a9"/>
<circle cx="1348.28" cy="87" r="1.5" fill="#a5a5a9"/>
<circle cx="1366.34" cy="87" r="2.2" fill="#4a3fd6"/>
<circle cx="1384.4" cy="87" r="1" fill="#ededed"/>
<circle cx="1402.46" cy="87" r="2.2" fill="#a5a5a9"/>
<circle cx="1420.52" cy="87" r="1.5" fill="#e6e6e6"/>
<circle cx="1438.58" cy="87" r="2.2" fill="#2016e8"/>
<circle cx="1456.64" cy="87" r="1.5" fill="#e6e6e6"/>
<circle cx="1474.7" cy="87" r="1.5" fill="#e6e6e6"/>
<circle cx="1492.76" cy="87" r="1" fill="#ededed"/>
<circle cx="1510.82" cy="87" r="1.5" fill="#e6e6e6"/>
<circle cx="1528.88" cy="87" r="3" fill="#7670b8"/>
<circle cx="1546.94" cy="87" r="1.5" fill="#a5a5a9"/>
<circle cx="1565" cy="87" r="2.2" fill="#7670b8"/>
<circle cx="1583.06" cy="87" r="1" fill="#ededed"/>
<circle cx="1601.12" cy="87" r="3.8" fill="#4a3fd6"/>
<circle cx="1113.5" cy="126.2" r="2.2" fill="#b06a68"/>
<circle cx="1131.56" cy="126.2" r="1" fill="#ededed"/>
<circle cx="1149.62" cy="126.2" r="1" fill="#ededed"/>
<circle cx="1167.68" cy="126.2" r="1.5" fill="#a9a5a5"/>
<circle cx="1185.74" cy="126.2" r="3" fill="#cf4038"/>
<circle cx="1203.8" cy="126.2" r="1" fill="#ededed"/>
<circle cx="1221.86" cy="126.2" r="1.5" fill="#a9a5a5"/>
<circle cx="1239.92" cy="126.2" r="1" fill="#ededed"/>
<circle cx="1257.98" cy="126.2" r="1.5" fill="#a9a5a5"/>
<circle cx="1276.04" cy="126.2" r="2.2" fill="#b06a68"/>
<circle cx="1294.1" cy="126.2" r="1.5" fill="#e6e6e6"/>
<circle cx="1312.16" cy="126.2" r="1" fill="#ededed"/>
<circle cx="1330.22" cy="126.2" r="1" fill="#ededed"/>
<circle cx="1348.28" cy="126.2" r="1" fill="#ededed"/>
<circle cx="1366.34" cy="126.2" r="2.2" fill="#b06a68"/>
<circle cx="1384.4" cy="126.2" r="2.2" fill="#b06a68"/>
<circle cx="1402.46" cy="126.2" r="2.2" fill="#b06a68"/>
<circle cx="1420.52" cy="126.2" r="1.5" fill="#e6e6e6"/>
<circle cx="1438.58" cy="126.2" r="2.2" fill="#b06a68"/>
<circle cx="1456.64" cy="126.2" r="1.5" fill="#e6e6e6"/>
<circle cx="1474.7" cy="126.2" r="1.5" fill="#e6e6e6"/>
<circle cx="1492.76" cy="126.2" r="1.5" fill="#e6e6e6"/>
<circle cx="1510.82" cy="126.2" r="2.2" fill="#a9a5a5"/>
<circle cx="1528.88" cy="126.2" r="2.2" fill="#b06a68"/>
<circle cx="1546.94" cy="126.2" r="3" fill="#b06a68"/>
<circle cx="1565" cy="126.2" r="1.5" fill="#e6e6e6"/>
<circle cx="1583.06" cy="126.2" r="1.5" fill="#e6e6e6"/>
<circle cx="1601.12" cy="126.2" r="4.7" fill="#e3261c"/>
<circle cx="1113.5" cy="165.4" r="2.2" fill="#4a3fd6"/>
<circle cx="1131.56" cy="165.4" r="1" fill="#ededed"/>
<circle cx="1149.62" cy="165.4" r="1" fill="#ededed"/>
<circle cx="1167.68" cy="165.4" r="1.5" fill="#7670b8"/>
<circle cx="1185.74" cy="165.4" r="3" fill="#4a3fd6"/>
<circle cx="1203.8" cy="165.4" r="1" fill="#ededed"/>
<circle cx="1221.86" cy="165.4" r="1.5" fill="#a5a5a9"/>
<circle cx="1239.92" cy="165.4" r="1" fill="#ededed"/>
<circle cx="1257.98" cy="165.4" r="1.5" fill="#7670b8"/>
<circle cx="1276.04" cy="165.4" r="2.2" fill="#7670b8"/>
<circle cx="1294.1" cy="165.4" r="1" fill="#ededed"/>
<circle cx="1312.16" cy="165.4" r="1" fill="#ededed"/>
<circle cx="1330.22" cy="165.4" r="1" fill="#ededed"/>
<circle cx="1348.28" cy="165.4" r="1" fill="#ededed"/>
<circle cx="1366.34" cy="165.4" r="2.2" fill="#7670b8"/>
<circle cx="1384.4" cy="165.4" r="2.2" fill="#7670b8"/>
<circle cx="1402.46" cy="165.4" r="2.2" fill="#7670b8"/>
<circle cx="1420.52" cy="165.4" r="1.5" fill="#e6e6e6"/>
<circle cx="1438.58" cy="165.4" r="3" fill="#4a3fd6"/>
<circle cx="1456.64" cy="165.4" r="1.5" fill="#e6e6e6"/>
<circle cx="1474.7" cy="165.4" r="1.5" fill="#e6e6e6"/>
<circle cx="1492.76" cy="165.4" r="1" fill="#ededed"/>
<circle cx="1510.82" cy="165.4" r="2.2" fill="#a5a5a9"/>
<circle cx="1528.88" cy="165.4" r="2.2" fill="#7670b8"/>
<circle cx="1546.94" cy="165.4" r="3" fill="#4a3fd6"/>
<circle cx="1565" cy="165.4" r="2.2" fill="#7670b8"/>
<circle cx="1583.06" cy="165.4" r="1" fill="#ededed"/>
<circle cx="1601.12" cy="165.4" r="4.7" fill="#2016e8"/>
<circle cx="1113.5" cy="204.6" r="1" fill="#ededed"/>
<circle cx="1131.56" cy="204.6" r="1" fill="#ededed"/>
<circle cx="1149.62" cy="204.6" r="1.5" fill="#a9a5a5"/>
<circle cx="1167.68" cy="204.6" r="1" fill="#ededed"/>
<circle cx="1185.74" cy="204.6" r="1" fill="#ededed"/>
<circle cx="1203.8" cy="204.6" r="1.5" fill="#e6e6e6"/>
<circle cx="1221.86" cy="204.6" r="4.7" fill="#e3261c"/>
<circle cx="1239.92" cy="204.6" r="1" fill="#ededed"/>
<circle cx="1257.98" cy="204.6" r="3.8" fill="#e3261c"/>
<circle cx="1276.04" cy="204.6" r="3.8" fill="#e3261c"/>
<circle cx="1294.1" cy="204.6" r="2.2" fill="#a9a5a5"/>
<circle cx="1312.16" cy="204.6" r="3.8" fill="#cf4038"/>
<circle cx="1330.22" cy="204.6" r="4.7" fill="#e3261c"/>
<circle cx="1348.28" cy="204.6" r="3" fill="#e3261c"/>
<circle cx="1366.34" cy="204.6" r="2.2" fill="#e6e6e6"/>
<circle cx="1384.4" cy="204.6" r="3" fill="#cf4038"/>
<circle cx="1402.46" cy="204.6" r="1.5" fill="#e6e6e6"/>
<circle cx="1420.52" cy="204.6" r="4.7" fill="#e3261c"/>
<circle cx="1438.58" cy="204.6" r="1" fill="#ededed"/>
<circle cx="1456.64" cy="204.6" r="3" fill="#cf4038"/>
<circle cx="1474.7" cy="204.6" r="1" fill="#ededed"/>
<circle cx="1492.76" cy="204.6" r="4.7" fill="#e3261c"/>
<circle cx="1510.82" cy="204.6" r="1" fill="#ededed"/>
<circle cx="1528.88" cy="204.6" r="3.8" fill="#e3261c"/>
<circle cx="1546.94" cy="204.6" r="1" fill="#ededed"/>
<circle cx="1565" cy="204.6" r="3.8" fill="#cf4038"/>
<circle cx="1583.06" cy="204.6" r="2.2" fill="#a9a5a5"/>
<circle cx="1601.12" cy="204.6" r="3.8" fill="#e6e6e6"/>
<circle cx="1113.5" cy="243.8" r="1" fill="#ededed"/>
<circle cx="1131.56" cy="243.8" r="1" fill="#ededed"/>
<circle cx="1149.62" cy="243.8" r="1.5" fill="#a5a5a9"/>
<circle cx="1167.68" cy="243.8" r="1" fill="#ededed"/>
<circle cx="1185.74" cy="243.8" r="1" fill="#ededed"/>
<circle cx="1203.8" cy="243.8" r="1.5" fill="#a5a5a9"/>
<circle cx="1221.86" cy="243.8" r="4.7" fill="#2016e8"/>
<circle cx="1239.92" cy="243.8" r="1" fill="#ededed"/>
<circle cx="1257.98" cy="243.8" r="3.8" fill="#2016e8"/>
<circle cx="1276.04" cy="243.8" r="3.8" fill="#2016e8"/>
<circle cx="1294.1" cy="243.8" r="2.2" fill="#4a3fd6"/>
<circle cx="1312.16" cy="243.8" r="3.8" fill="#4a3fd6"/>
<circle cx="1330.22" cy="243.8" r="4.7" fill="#2016e8"/>
<circle cx="1348.28" cy="243.8" r="3" fill="#2016e8"/>
<circle cx="1366.34" cy="243.8" r="2.2" fill="#e6e6e6"/>
<circle cx="1384.4" cy="243.8" r="3" fill="#4a3fd6"/>
<circle cx="1402.46" cy="243.8" r="1.5" fill="#e6e6e6"/>
<circle cx="1420.52" cy="243.8" r="4.7" fill="#4a3fd6"/>
<circle cx="1438.58" cy="243.8" r="1.5" fill="#e6e6e6"/>
<circle cx="1456.64" cy="243.8" r="2.2" fill="#2016e8"/>
<circle cx="1474.7" cy="243.8" r="1" fill="#ededed"/>
<circle cx="1492.76" cy="243.8" r="3.8" fill="#2016e8"/>
<circle cx="1510.82" cy="243.8" r="1.5" fill="#e6e6e6"/>
<circle cx="1528.88" cy="243.8" r="4.7" fill="#4a3fd6"/>
<circle cx="1546.94" cy="243.8" r="1.5" fill="#e6e6e6"/>
<circle cx="1565" cy="243.8" r="3.8" fill="#2016e8"/>
<circle cx="1583.06" cy="243.8" r="2.2" fill="#4a3fd6"/>
<circle cx="1601.12" cy="243.8" r="3.8" fill="#e6e6e6"/>
<circle cx="1113.5" cy="283" r="1" fill="#ededed"/>
<circle cx="1131.56" cy="283" r="3" fill="#e3261c"/>
<circle cx="1149.62" cy="283" r="3.8" fill="#e3261c"/>
<circle cx="1167.68" cy="283" r="1.5" fill="#e6e6e6"/>
<circle cx="1185.74" cy="283" r="1" fill="#ededed"/>
<circle cx="1203.8" cy="283" r="1" fill="#ededed"/>
<circle cx="1221.86" cy="283" r="4.7" fill="#e3261c"/>
<circle cx="1239.92" cy="283" r="1" fill="#ededed"/>
<circle cx="1257.98" cy="283" r="3" fill="#cf4038"/>
<circle cx="1276.04" cy="283" r="3" fill="#cf4038"/>
<circle cx="1294.1" cy="283" r="2.2" fill="#a9a5a5"/>
<circle cx="1312.16" cy="283" r="4.7" fill="#e3261c"/>
<circle cx="1330.22" cy="283" r="3" fill="#cf4038"/>
<circle cx="1348.28" cy="283" r="3" fill="#cf4038"/>
<circle cx="1366.34" cy="283" r="1.5" fill="#a9a5a5"/>
<circle cx="1384.4" cy="283" r="2.2" fill="#b06a68"/>
<circle cx="1402.46" cy="283" r="1.5" fill="#e6e6e6"/>
<circle cx="1420.52" cy="283" r="4.7" fill="#e3261c"/>
<circle cx="1438.58" cy="283" r="1.5" fill="#e6e6e6"/>
<circle cx="1456.64" cy="283" r="2.2" fill="#b06a68"/>
<circle cx="1474.7" cy="283" r="1" fill="#ededed"/>
<circle cx="1492.76" cy="283" r="1.5" fill="#a9a5a5"/>
<circle cx="1510.82" cy="283" r="1" fill="#ededed"/>
<circle cx="1528.88" cy="283" r="4.7" fill="#e3261c"/>
<circle cx="1546.94" cy="283" r="1.5" fill="#e6e6e6"/>
<circle cx="1565" cy="283" r="3.8" fill="#e3261c"/>
<circle cx="1583.06" cy="283" r="2.2" fill="#cf4038"/>
<circle cx="1601.12" cy="283" r="3" fill="#e6e6e6"/>
<circle cx="1113.5" cy="322.2" r="1" fill="#ededed"/>
<circle cx="1131.56" cy="322.2" r="3" fill="#2016e8"/>
<circle cx="1149.62" cy="322.2" r="3.8" fill="#2016e8"/>
<circle cx="1167.68" cy="322.2" r="1.5" fill="#e6e6e6"/>
<circle cx="1185.74" cy="322.2" r="1.5" fill="#e6e6e6"/>
<circle cx="1203.8" cy="322.2" r="1" fill="#ededed"/>
<circle cx="1221.86" cy="322.2" r="4.7" fill="#2016e8"/>
<circle cx="1239.92" cy="322.2" r="1" fill="#ededed"/>
<circle cx="1257.98" cy="322.2" r="3" fill="#2016e8"/>
<circle cx="1276.04" cy="322.2" r="3" fill="#2016e8"/>
<circle cx="1294.1" cy="322.2" r="2.2" fill="#a5a5a9"/>
<circle cx="1312.16" cy="322.2" r="4.7" fill="#2016e8"/>
<circle cx="1330.22" cy="322.2" r="3" fill="#4a3fd6"/>
<circle cx="1348.28" cy="322.2" r="3" fill="#2016e8"/>
<circle cx="1366.34" cy="322.2" r="1.5" fill="#e6e6e6"/>
<circle cx="1384.4" cy="322.2" r="2.2" fill="#7670b8"/>
<circle cx="1402.46" cy="322.2" r="1.5" fill="#a5a5a9"/>
<circle cx="1420.52" cy="322.2" r="4.7" fill="#2016e8"/>
<circle cx="1438.58" cy="322.2" r="1.5" fill="#e6e6e6"/>
<circle cx="1456.64" cy="322.2" r="2.2" fill="#4a3fd6"/>
<circle cx="1474.7" cy="322.2" r="1" fill="#ededed"/>
<circle cx="1492.76" cy="322.2" r="1.5" fill="#a5a5a9"/>
<circle cx="1510.82" cy="322.2" r="1.5" fill="#e6e6e6"/>
<circle cx="1528.88" cy="322.2" r="4.7" fill="#2016e8"/>
<circle cx="1546.94" cy="322.2" r="1.5" fill="#e6e6e6"/>
<circle cx="1565" cy="322.2" r="3.8" fill="#2016e8"/>
<circle cx="1583.06" cy="322.2" r="2.2" fill="#2016e8"/>
<circle cx="1601.12" cy="322.2" r="3" fill="#e6e6e6"/>
<circle cx="1113.5" cy="361.4" r="1.5" fill="#a9a5a5"/>
<circle cx="1131.56" cy="361.4" r="1.5" fill="#e6e6e6"/>
<circle cx="1149.62" cy="361.4" r="1.5" fill="#a9a5a5"/>
<circle cx="1167.68" cy="361.4" r="1" fill="#ededed"/>
<circle cx="1185.74" cy="361.4" r="1.5" fill="#a9a5a5"/>
<circle cx="1203.8" cy="361.4" r="1" fill="#ededed"/>
<circle cx="1221.86" cy="361.4" r="2.2" fill="#b06a68"/>
<circle cx="1239.92" cy="361.4" r="1.5" fill="#cf4038"/>
<circle cx="1257.98" cy="361.4" r="3" fill="#cf4038"/>
<circle cx="1276.04" cy="361.4" r="2.2" fill="#cf4038"/>
<circle cx="1294.1" cy="361.4" r="1.5" fill="#a9a5a5"/>
<circle cx="1312.16" cy="361.4" r="1.5" fill="#e6e6e6"/>
<circle cx="1330.22" cy="361.4" r="1.5" fill="#e6e6e6"/>
<circle cx="1348.28" cy="361.4" r="1" fill="#ededed"/>
<circle cx="1366.34" cy="361.4" r="4.7" fill="#e3261c"/>
<circle cx="1384.4" cy="361.4" r="3.8" fill="#e3261c"/>
<circle cx="1402.46" cy="361.4" r="3" fill="#b06a68"/>
<circle cx="1420.52" cy="361.4" r="1.5" fill="#e6e6e6"/>
<circle cx="1438.58" cy="361.4" r="3.8" fill="#e3261c"/>
<circle cx="1456.64" cy="361.4" r="1" fill="#ededed"/>
<circle cx="1474.7" cy="361.4" r="1.5" fill="#a9a5a5"/>
<circle cx="1492.76" cy="361.4" r="1" fill="#ededed"/>
<circle cx="1510.82" cy="361.4" r="3.8" fill="#e3261c"/>
<circle cx="1528.88" cy="361.4" r="1.5" fill="#e6e6e6"/>
<circle cx="1546.94" cy="361.4" r="4.7" fill="#e3261c"/>
<circle cx="1565" cy="361.4" r="1.5" fill="#a9a5a5"/>
<circle cx="1583.06" cy="361.4" r="1.5" fill="#e6e6e6"/>
<circle cx="1601.12" cy="361.4" r="4.7" fill="#e3261c"/>
<circle cx="1113.5" cy="400.6" r="1.5" fill="#a5a5a9"/>
<circle cx="1131.56" cy="400.6" r="1.5" fill="#e6e6e6"/>
<circle cx="1149.62" cy="400.6" r="1.5" fill="#a5a5a9"/>
<circle cx="1167.68" cy="400.6" r="1" fill="#ededed"/>
<circle cx="1185.74" cy="400.6" r="1.5" fill="#a5a5a9"/>
<circle cx="1203.8" cy="400.6" r="1" fill="#ededed"/>
<circle cx="1221.86" cy="400.6" r="2.2" fill="#7670b8"/>
<circle cx="1239.92" cy="400.6" r="1.5" fill="#4a3fd6"/>
<circle cx="1257.98" cy="400.6" r="3" fill="#2016e8"/>
<circle cx="1276.04" cy="400.6" r="2.2" fill="#7670b8"/>
<circle cx="1294.1" cy="400.6" r="1.5" fill="#a5a5a9"/>
<circle cx="1312.16" cy="400.6" r="1.5" fill="#e6e6e6"/>
<circle cx="1330.22" cy="400.6" r="1.5" fill="#e6e6e6"/>
<circle cx="1348.28" cy="400.6" r="1" fill="#ededed"/>
<circle cx="1366.34" cy="400.6" r="4.7" fill="#2016e8"/>
<circle cx="1384.4" cy="400.6" r="3.8" fill="#2016e8"/>
<circle cx="1402.46" cy="400.6" r="3" fill="#7670b8"/>
<circle cx="1420.52" cy="400.6" r="1.5" fill="#a5a5a9"/>
<circle cx="1438.58" cy="400.6" r="3.8" fill="#2016e8"/>
<circle cx="1456.64" cy="400.6" r="1" fill="#ededed"/>
<circle cx="1474.7" cy="400.6" r="1.5" fill="#e6e6e6"/>
<circle cx="1492.76" cy="400.6" r="1" fill="#ededed"/>
<circle cx="1510.82" cy="400.6" r="3.8" fill="#2016e8"/>
<circle cx="1528.88" cy="400.6" r="1.5" fill="#a5a5a9"/>
<circle cx="1546.94" cy="400.6" r="4.7" fill="#2016e8"/>
<circle cx="1565" cy="400.6" r="1.5" fill="#e6e6e6"/>
<circle cx="1583.06" cy="400.6" r="1.5" fill="#e6e6e6"/>
<circle cx="1601.12" cy="400.6" r="4.7" fill="#2016e8"/>
<circle cx="1113.5" cy="439.8" r="4.7" fill="#e3261c"/>
<circle cx="1131.56" cy="439.8" r="1.5" fill="#e6e6e6"/>
<circle cx="1149.62" cy="439.8" r="1.5" fill="#a9a5a5"/>
<circle cx="1167.68" cy="439.8" r="3.8" fill="#cf4038"/>
<circle cx="1185.74" cy="439.8" r="4.7" fill="#e3261c"/>
<circle cx="1203.8" cy="439.8" r="1" fill="#ededed"/>
<circle cx="1221.86" cy="439.8" r="1.5" fill="#a9a5a5"/>
<circle cx="1239.92" cy="439.8" r="1" fill="#ededed"/>
<circle cx="1257.98" cy="439.8" r="1" fill="#ededed"/>
<circle cx="1276.04" cy="439.8" r="2.2" fill="#a9a5a5"/>
<circle cx="1294.1" cy="439.8" r="2.2" fill="#cf4038"/>
<circle cx="1312.16" cy="439.8" r="1" fill="#ededed"/>
<circle cx="1330.22" cy="439.8" r="1" fill="#ededed"/>
<circle cx="1348.28" cy="439.8" r="1.5" fill="#a9a5a5"/>
<circle cx="1366.34" cy="439.8" r="3" fill="#cf4038"/>
<circle cx="1384.4" cy="439.8" r="1.5" fill="#e6e6e6"/>
<circle cx="1402.46" cy="439.8" r="4.7" fill="#e3261c"/>
<circle cx="1420.52" cy="439.8" r="1.5" fill="#e6e6e6"/>
<circle cx="1438.58" cy="439.8" r="2.2" fill="#a9a5a5"/>
<circle cx="1456.64" cy="439.8" r="1" fill="#ededed"/>
<circle cx="1474.7" cy="439.8" r="2.2" fill="#cf4038"/>
<circle cx="1492.76" cy="439.8" r="1.5" fill="#e6e6e6"/>
<circle cx="1510.82" cy="439.8" r="1.5" fill="#a9a5a5"/>
<circle cx="1528.88" cy="439.8" r="1.5" fill="#e6e6e6"/>
<circle cx="1546.94" cy="439.8" r="3.8" fill="#cf4038"/>
<circle cx="1565" cy="439.8" r="1.5" fill="#e6e6e6"/>
<circle cx="1583.06" cy="439.8" r="1" fill="#ededed"/>
<circle cx="1601.12" cy="439.8" r="4.7" fill="#e3261c"/>
<circle cx="1113.5" cy="479" r="4.7" fill="#2016e8"/>
<circle cx="1131.56" cy="479" r="1.5" fill="#e6e6e6"/>
<circle cx="1149.62" cy="479" r="1.5" fill="#a5a5a9"/>
<circle cx="1167.68" cy="479" r="3.8" fill="#4a3fd6"/>
<circle cx="1185.74" cy="479" r="4.7" fill="#2016e8"/>
<circle cx="1203.8" cy="479" r="1.5" fill="#e6e6e6"/>
<circle cx="1221.86" cy="479" r="1.5" fill="#a5a5a9"/>
<circle cx="1239.92" cy="479" r="1" fill="#ededed"/>
<circle cx="1257.98" cy="479" r="1" fill="#ededed"/>
<circle cx="1276.04" cy="479" r="2.2" fill="#a5a5a9"/>
<circle cx="1294.1" cy="479" r="2.2" fill="#4a3fd6"/>
<circle cx="1312.16" cy="479" r="1" fill="#ededed"/>
<circle cx="1330.22" cy="479" r="1" fill="#ededed"/>
<circle cx="1348.28" cy="479" r="1.5" fill="#a5a5a9"/>
<circle cx="1366.34" cy="479" r="3" fill="#4a3fd6"/>
<circle cx="1384.4" cy="479" r="1.5" fill="#e6e6e6"/>
<circle cx="1402.46" cy="479" r="4.7" fill="#2016e8"/>
<circle cx="1420.52" cy="479" r="1.5" fill="#e6e6e6"/>
<circle cx="1438.58" cy="479" r="2.2" fill="#a5a5a9"/>
<circle cx="1456.64" cy="479" r="1.5" fill="#e6e6e6"/>
<circle cx="1474.7" cy="479" r="2.2" fill="#4a3fd6"/>
<circle cx="1492.76" cy="479" r="1.5" fill="#e6e6e6"/>
<circle cx="1510.82" cy="479" r="1.5" fill="#a5a5a9"/>
<circle cx="1528.88" cy="479" r="1.5" fill="#e6e6e6"/>
<circle cx="1546.94" cy="479" r="3.8" fill="#4a3fd6"/>
<circle cx="1565" cy="479" r="1.5" fill="#e6e6e6"/>
<circle cx="1583.06" cy="479" r="1.5" fill="#e6e6e6"/>
<circle cx="1601.12" cy="479" r="4.7" fill="#2016e8"/>
<circle cx="1113.5" cy="518.2" r="1" fill="#ededed"/>
<circle cx="1131.56" cy="518.2" r="2.2" fill="#b06a68"/>
<circle cx="1149.62" cy="518.2" r="2.2" fill="#b06a68"/>
<circle cx="1167.68" cy="518.2" r="1.5" fill="#e6e6e6"/>
<circle cx="1185.74" cy="518.2" r="1" fill="#ededed"/>
<circle cx="1203.8" cy="518.2" r="1.5" fill="#b06a68"/>
<circle cx="1221.86" cy="518.2" r="4.7" fill="#e3261c"/>
<circle cx="1239.92" cy="518.2" r="1.5" fill="#b06a68"/>
<circle cx="1257.98" cy="518.2" r="3.8" fill="#e3261c"/>
<circle cx="1276.04" cy="518.2" r="1.5" fill="#e6e6e6"/>
<circle cx="1294.1" cy="518.2" r="2.2" fill="#cf4038"/>
<circle cx="1312.16" cy="518.2" r="3" fill="#cf4038"/>
<circle cx="1330.22" cy="518.2" r="1.5" fill="#cf4038"/>
<circle cx="1348.28" cy="518.2" r="1.5" fill="#a9a5a5"/>
<circle cx="1366.34" cy="518.2" r="2.2" fill="#a9a5a5"/>
<circle cx="1384.4" cy="518.2" r="2.2" fill="#cf4038"/>
<circle cx="1402.46" cy="518.2" r="1.5" fill="#e6e6e6"/>
<circle cx="1420.52" cy="518.2" r="4.7" fill="#e3261c"/>
<circle cx="1438.58" cy="518.2" r="1.5" fill="#e6e6e6"/>
<circle cx="1456.64" cy="518.2" r="1.5" fill="#cf4038"/>
<circle cx="1474.7" cy="518.2" r="1.5" fill="#e6e6e6"/>
<circle cx="1492.76" cy="518.2" r="1.5" fill="#a9a5a5"/>
<circle cx="1510.82" cy="518.2" r="1.5" fill="#e6e6e6"/>
<circle cx="1528.88" cy="518.2" r="3" fill="#cf4038"/>
<circle cx="1546.94" cy="518.2" r="1.5" fill="#e6e6e6"/>
<circle cx="1565" cy="518.2" r="2.2" fill="#cf4038"/>
<circle cx="1583.06" cy="518.2" r="2.2" fill="#e3261c"/>
<circle cx="1601.12" cy="518.2" r="2.2" fill="#a9a5a5"/>
<circle cx="1113.5" cy="557.4" r="1" fill="#ededed"/>
<circle cx="1131.56" cy="557.4" r="2.2" fill="#7670b8"/>
<circle cx="1149.62" cy="557.4" r="2.2" fill="#4a3fd6"/>
<circle cx="1167.68" cy="557.4" r="1.5" fill="#e6e6e6"/>
<circle cx="1185.74" cy="557.4" r="1" fill="#ededed"/>
<circle cx="1203.8" cy="557.4" r="1.5" fill="#4a3fd6"/>
<circle cx="1221.86" cy="557.4" r="4.7" fill="#2016e8"/>
<circle cx="1239.92" cy="557.4" r="1.5" fill="#7670b8"/>
<circle cx="1257.98" cy="557.4" r="3.8" fill="#2016e8"/>
<circle cx="1276.04" cy="557.4" r="1.5" fill="#e6e6e6"/>
<circle cx="1294.1" cy="557.4" r="2.2" fill="#4a3fd6"/>
<circle cx="1312.16" cy="557.4" r="3" fill="#4a3fd6"/>
<circle cx="1330.22" cy="557.4" r="1.5" fill="#7670b8"/>
<circle cx="1348.28" cy="557.4" r="1.5" fill="#a5a5a9"/>
<circle cx="1366.34" cy="557.4" r="2.2" fill="#a5a5a9"/>
<circle cx="1384.4" cy="557.4" r="2.2" fill="#2016e8"/>
<circle cx="1402.46" cy="557.4" r="1.5" fill="#e6e6e6"/>
<circle cx="1420.52" cy="557.4" r="4.7" fill="#2016e8"/>
<circle cx="1438.58" cy="557.4" r="1.5" fill="#e6e6e6"/>
<circle cx="1456.64" cy="557.4" r="1.5" fill="#4a3fd6"/>
<circle cx="1474.7" cy="557.4" r="1" fill="#ededed"/>
<circle cx="1492.76" cy="557.4" r="1.5" fill="#a5a5a9"/>
<circle cx="1510.82" cy="557.4" r="1.5" fill="#e6e6e6"/>
<circle cx="1528.88" cy="557.4" r="3" fill="#7670b8"/>
<circle cx="1546.94" cy="557.4" r="1.5" fill="#e6e6e6"/>
<circle cx="1565" cy="557.4" r="2.2" fill="#2016e8"/>
<circle cx="1583.06" cy="557.4" r="2.2" fill="#2016e8"/>
<circle cx="1601.12" cy="557.4" r="2.2" fill="#a5a5a9"/>
<line x1="1103" y1="24.5" x2="1103" y2="581.7" stroke="#555" stroke-width="1.9"/>
<line x1="1102.1" y1="580.8" x2="1613" y2="580.8" stroke="#555" stroke-width="1.9"/>
<line x1="1113.5" y1="581" x2="1113.5" y2="586" stroke="#444" stroke-width="1.6"/>
<text transform="translate(1119.1 627.5) rotate(-90)" font-size="15.6" fill="#3a3a3a" stroke="#3a3a3a" text-anchor="middle">ANXA2</text>
<line x1="1131.56" y1="581" x2="1131.56" y2="586" stroke="#444" stroke-width="1.6"/>
<text transform="translate(1137.16 627.5) rotate(-90)" font-size="15.6" fill="#3a3a3a" stroke="#3a3a3a" text-anchor="middle">BCL11B</text>
<line x1="1149.62" y1="581" x2="1149.62" y2="586" stroke="#444" stroke-width="1.6"/>
<text transform="translate(1155.22 627.5) rotate(-90)" font-size="15.6" fill="#3a3a3a" stroke="#3a3a3a" text-anchor="middle">CNTNAP2</text>
<line x1="1167.68" y1="581" x2="1167.68" y2="586" stroke="#444" stroke-width="1.6"/>
<text transform="translate(1173.28 627.5) rotate(-90)" font-size="15.6" fill="#3a3a3a" stroke="#3a3a3a" text-anchor="middle">CRABP1</text>
<line x1="1185.74" y1="581" x2="1185.74" y2="586" stroke="#444" stroke-width="1.6"/>
<text transform="translate(1191.34 627.5) rotate(-90)" font-size="15.6" fill="#3a3a3a" stroke="#3a3a3a" text-anchor="middle">CRABP2</text>
<line x1="1203.8" y1="581" x2="1203.8" y2="586" stroke="#444" stroke-width="1.6"/>
<text transform="translate(1209.4 627.5) rotate(-90)" font-size="15.6" fill="#3a3a3a" stroke="#3a3a3a" text-anchor="middle">CUX2</text>
<line x1="1221.86" y1="581" x2="1221.86" y2="586" stroke="#444" stroke-width="1.6"/>
<text transform="translate(1227.46 627.5) rotate(-90)" font-size="15.6" fill="#3a3a3a" stroke="#3a3a3a" text-anchor="middle">DCX</text>
<line x1="1239.92" y1="581" x2="1239.92" y2="586" stroke="#444" stroke-width="1.6"/>
<text transform="translate(1245.52 627.5) rotate(-90)" font-size="15.6" fill="#3a3a3a" stroke="#3a3a3a" text-anchor="middle">EOMES</text>
<line x1="1257.98" y1="581" x2="1257.98" y2="586" stroke="#444" stroke-width="1.6"/>
<text transform="translate(1263.58 627.5) rotate(-90)" font-size="15.6" fill="#3a3a3a" stroke="#3a3a3a" text-anchor="middle">FOXG1</text>
<line x1="1276.04" y1="581" x2="1276.04" y2="586" stroke="#444" stroke-width="1.6"/>
<text transform="translate(1281.64 627.5) rotate(-90)" font-size="15.6" fill="#3a3a3a" stroke="#3a3a3a" text-anchor="middle">FOXP1</text>
<line x1="1294.1" y1="581" x2="1294.1" y2="586" stroke="#444" stroke-width="1.6"/>
<text transform="translate(1299.7 627.5) rotate(-90)" font-size="15.6" fill="#3a3a3a" stroke="#3a3a3a" text-anchor="middle">GRIA1</text>
<line x1="1312.16" y1="581" x2="1312.16" y2="586" stroke="#444" stroke-width="1.6"/>
<text transform="translate(1317.76 627.5) rotate(-90)" font-size="15.6" fill="#3a3a3a" stroke="#3a3a3a" text-anchor="middle">GRIA2</text>
<line x1="1330.22" y1="581" x2="1330.22" y2="586" stroke="#444" stroke-width="1.6"/>
<text transform="translate(1335.82 627.5) rotate(-90)" font-size="15.6" fill="#3a3a3a" stroke="#3a3a3a" text-anchor="middle">GRIN2B</text>
<line x1="1348.28" y1="581" x2="1348.28" y2="586" stroke="#444" stroke-width="1.6"/>
<text transform="translate(1353.88 627.5) rotate(-90)" font-size="15.6" fill="#3a3a3a" stroke="#3a3a3a" text-anchor="middle">HOMER1</text>
<line x1="1366.34" y1="581" x2="1366.34" y2="586" stroke="#444" stroke-width="1.6"/>
<text transform="translate(1371.94 627.5) rotate(-90)" font-size="15.6" fill="#3a3a3a" stroke="#3a3a3a" text-anchor="middle">ID4</text>
<line x1="1384.4" y1="581" x2="1384.4" y2="586" stroke="#444" stroke-width="1.6"/>
<text transform="translate(1390 627.5) rotate(-90)" font-size="15.6" fill="#3a3a3a" stroke="#3a3a3a" text-anchor="middle">LHX2</text>
<line x1="1402.46" y1="581" x2="1402.46" y2="586" stroke="#444" stroke-width="1.6"/>
<text transform="translate(1408.06 627.5) rotate(-90)" font-size="15.6" fill="#3a3a3a" stroke="#3a3a3a" text-anchor="middle">NES</text>
<line x1="1420.52" y1="581" x2="1420.52" y2="586" stroke="#444" stroke-width="1.6"/>
<text transform="translate(1426.12 627.5) rotate(-90)" font-size="15.6" fill="#3a3a3a" stroke="#3a3a3a" text-anchor="middle">NEUROD2</text>
<line x1="1438.58" y1="581" x2="1438.58" y2="586" stroke="#444" stroke-width="1.6"/>
<text transform="translate(1444.18 627.5) rotate(-90)" font-size="15.6" fill="#3a3a3a" stroke="#3a3a3a" text-anchor="middle">PAX6</text>
<line x1="1456.64" y1="581" x2="1456.64" y2="586" stroke="#444" stroke-width="1.6"/>
<text transform="translate(1462.24 627.5) rotate(-90)" font-size="15.6" fill="#3a3a3a" stroke="#3a3a3a" text-anchor="middle">RBFOX3</text>
<line x1="1474.7" y1="581" x2="1474.7" y2="586" stroke="#444" stroke-width="1.6"/>
<text transform="translate(1480.3 627.5) rotate(-90)" font-size="15.6" fill="#3a3a3a" stroke="#3a3a3a" text-anchor="middle">S100B</text>
<line x1="1492.76" y1="581" x2="1492.76" y2="586" stroke="#444" stroke-width="1.6"/>
<text transform="translate(1498.36 627.5) rotate(-90)" font-size="15.6" fill="#3a3a3a" stroke="#3a3a3a" text-anchor="middle">SATB2</text>
<line x1="1510.82" y1="581" x2="1510.82" y2="586" stroke="#444" stroke-width="1.6"/>
<text transform="translate(1516.42 627.5) rotate(-90)" font-size="15.6" fill="#3a3a3a" stroke="#3a3a3a" text-anchor="middle">SLC1A3</text>
<line x1="1528.88" y1="581" x2="1528.88" y2="586" stroke="#444" stroke-width="1.6"/>
<text transform="translate(1534.48 627.5) rotate(-90)" font-size="15.6" fill="#3a3a3a" stroke="#3a3a3a" text-anchor="middle">SNAP25</text>
<line x1="1546.94" y1="581" x2="1546.94" y2="586" stroke="#444" stroke-width="1.6"/>
<text transform="translate(1552.54 627.5) rotate(-90)" font-size="15.6" fill="#3a3a3a" stroke="#3a3a3a" text-anchor="middle">SOX2</text>
<line x1="1565" y1="581" x2="1565" y2="586" stroke="#444" stroke-width="1.6"/>
<text transform="translate(1570.6 627.5) rotate(-90)" font-size="15.6" fill="#3a3a3a" stroke="#3a3a3a" text-anchor="middle">SYP</text>
<line x1="1583.06" y1="581" x2="1583.06" y2="586" stroke="#444" stroke-width="1.6"/>
<text transform="translate(1588.66 627.5) rotate(-90)" font-size="15.6" fill="#3a3a3a" stroke="#3a3a3a" text-anchor="middle">TBR1</text>
<line x1="1601.12" y1="581" x2="1601.12" y2="586" stroke="#444" stroke-width="1.6"/>
<text transform="translate(1606.72 627.5) rotate(-90)" font-size="15.6" fill="#3a3a3a" stroke="#3a3a3a" text-anchor="middle">VIM</text>
<text x="1634.5" y="258.2" font-size="17" fill="#333" stroke="#333" textLength="58" lengthAdjust="spacingAndGlyphs">pct.exp</text>
<circle cx="1643.9" cy="274.5" r="1.4" fill="#d9d9d9"/>
<text x="1656.5" y="280" font-size="15" fill="#3a3a3a" stroke="#3a3a3a" textLength="28.7" lengthAdjust="spacingAndGlyphs">0.00</text>
<circle cx="1643.9" cy="293.4" r="1.9" fill="#000"/>
<text x="1656.5" y="298.9" font-size="15" fill="#3a3a3a" stroke="#3a3a3a" textLength="28.7" lengthAdjust="spacingAndGlyphs">0.25</text>
<circle cx="1643.9" cy="312.2" r="2.9" fill="#000"/>
<text x="1656.5" y="317.7" font-size="15" fill="#3a3a3a" stroke="#3a3a3a" textLength="28.7" lengthAdjust="spacingAndGlyphs">0.50</text>
<circle cx="1643.9" cy="331" r="3.9" fill="#000"/>
<text x="1656.5" y="336.5" font-size="15" fill="#3a3a3a" stroke="#3a3a3a" textLength="28.7" lengthAdjust="spacingAndGlyphs">0.75</text>
<circle cx="1643.9" cy="350" r="5.3" fill="#000"/>
<text x="1656.5" y="355.5" font-size="15" fill="#3a3a3a" stroke="#3a3a3a" textLength="28.7" lengthAdjust="spacingAndGlyphs">1.00</text>
<circle cx="1629.2" cy="447.6" r="8.7" fill="#ee7b70"/>
<text x="1645" y="451.8" font-size="13" fill="#4a4a4a" stroke="#4a4a4a" textLength="92.3" lengthAdjust="spacingAndGlyphs">cortical neurons</text>
<circle cx="1629.2" cy="468.36" r="8.7" fill="#c09b24"/>
<text x="1645" y="472.56" font-size="13" fill="#4a4a4a" stroke="#4a4a4a" textLength="65.6" lengthAdjust="spacingAndGlyphs">progenitors</text>
<circle cx="1629.2" cy="489.12" r="8.7" fill="#6db327"/>
<text x="1645" y="493.32" font-size="13" fill="#4a4a4a" stroke="#4a4a4a" textLength="50.2" lengthAdjust="spacingAndGlyphs">glia cells</text>
<circle cx="1629.2" cy="509.88" r="8.7" fill="#55bd96"/>
<text x="1645" y="514.08" font-size="13" fill="#4a4a4a" stroke="#4a4a4a" textLength="70.5" lengthAdjust="spacingAndGlyphs">lower cortex</text>
<circle cx="1629.2" cy="530.64" r="8.7" fill="#51b3e8"/>
<text x="1645" y="534.84" font-size="13" fill="#4a4a4a" stroke="#4a4a4a" textLength="72" lengthAdjust="spacingAndGlyphs">upper cortex</text>
<circle cx="1629.2" cy="551.4" r="8.7" fill="#a68cf7"/>
<text x="1645" y="555.6" font-size="13" fill="#4a4a4a" stroke="#4a4a4a" textLength="29.7" lengthAdjust="spacingAndGlyphs">other</text>
<circle cx="1629.2" cy="572.16" r="8.7" fill="#ec6bd6"/>
<text x="1645" y="576.36" font-size="13" fill="#4a4a4a" stroke="#4a4a4a" textLength="68.5" lengthAdjust="spacingAndGlyphs">neural crest</text>
</g>
<g id="panel-d">
<text x="1708" y="29.2" font-size="33" fill="#000" stroke="#000" font-weight="bold">d</text>
<rect x="1810.2" y="53.9" width="52.5" height="11.7" fill="#ec6bd6" stroke="#222" stroke-opacity="0.6" stroke-width="1.1"/>
<rect x="1810.2" y="65.6" width="52.5" height="17.8" fill="#a68cf7" stroke="#222" stroke-opacity="0.6" stroke-width="1.1"/>
<rect x="1810.2" y="83.4" width="52.5" height="37.8" fill="#55b4ea" stroke="#222" stroke-opacity="0.6" stroke-width="1.1"/>
<rect x="1810.2" y="121.2" width="52.5" height="75.2" fill="#5bbf98" stroke="#222" stroke-opacity="0.6" stroke-width="1.1"/>
<rect x="1810.2" y="196.4" width="52.5" height="102.4" fill="#6db327" stroke="#222" stroke-opacity="0.6" stroke-width="1.1"/>
<rect x="1810.2" y="298.8" width="52.5" height="116.6" fill="#c09b24" stroke="#222" stroke-opacity="0.6" stroke-width="1.1"/>
<rect x="1810.2" y="415.4" width="52.5" height="139.3" fill="#e97f72" stroke="#222" stroke-opacity="0.6" stroke-width="1.1"/>
<rect x="1872.4" y="53.9" width="52.3" height="10" fill="#ec6bd6" stroke="#222" stroke-opacity="0.6" stroke-width="1.1"/>
<rect x="1872.4" y="63.9" width="52.3" height="22.2" fill="#a68cf7" stroke="#222" stroke-opacity="0.6" stroke-width="1.1"/>
<rect x="1872.4" y="86.1" width="52.3" height="47" fill="#55b4ea" stroke="#222" stroke-opacity="0.6" stroke-width="1.1"/>
<rect x="1872.4" y="133.1" width="52.3" height="75.8" fill="#5bbf98" stroke="#222" stroke-opacity="0.6" stroke-width="1.1"/>
<rect x="1872.4" y="208.9" width="52.3" height="94.1" fill="#6db327" stroke="#222" stroke-opacity="0.6" stroke-width="1.1"/>
<rect x="1872.4" y="303" width="52.3" height="111.9" fill="#c09b24" stroke="#222" stroke-opacity="0.6" stroke-width="1.1"/>
<rect x="1872.4" y="414.9" width="52.3" height="139.8" fill="#e97f72" stroke="#222" stroke-opacity="0.6" stroke-width="1.1"/>
<line x1="1797.8" y1="53.9" x2="1797.8" y2="554.7" stroke="#777" stroke-width="1.3"/>
<line x1="1787.6" y1="53.9" x2="1797.8" y2="53.9" stroke="#777" stroke-width="1.3"/>
<text transform="translate(1778.4 53.9) rotate(-90)" font-size="16" fill="#5a5a5a" stroke="#5a5a5a" text-anchor="middle">1.0</text>
<line x1="1787.6" y1="154.06" x2="1797.8" y2="154.06" stroke="#777" stroke-width="1.3"/>
<text transform="translate(1778.4 154.06) rotate(-90)" font-size="16" fill="#5a5a5a" stroke="#5a5a5a" text-anchor="middle">0.8</text>
<line x1="1787.6" y1="254.22" x2="1797.8" y2="254.22" stroke="#777" stroke-width="1.3"/>
<text transform="translate(1778.4 254.22) rotate(-90)" font-size="16" fill="#5a5a5a" stroke="#5a5a5a" text-anchor="middle">0.6</text>
<line x1="1787.6" y1="354.38" x2="1797.8" y2="354.38" stroke="#777" stroke-width="1.3"/>
<text transform="translate(1778.4 354.38) rotate(-90)" font-size="16" fill="#5a5a5a" stroke="#5a5a5a" text-anchor="middle">0.4</text>
<line x1="1787.6" y1="454.54" x2="1797.8" y2="454.54" stroke="#777" stroke-width="1.3"/>
<text transform="translate(1778.4 454.54) rotate(-90)" font-size="16" fill="#5a5a5a" stroke="#5a5a5a" text-anchor="middle">0.2</text>
<line x1="1787.6" y1="554.7" x2="1797.8" y2="554.7" stroke="#777" stroke-width="1.3"/>
<text transform="translate(1778.4 554.7) rotate(-90)" font-size="16" fill="#5a5a5a" stroke="#5a5a5a" text-anchor="middle">0.0</text>
<text transform="translate(1750.3 303) rotate(-90)" font-size="21" fill="#262626" stroke="#262626" text-anchor="middle" textLength="150" lengthAdjust="spacingAndGlyphs">Population ratio</text>
<text x="1838" y="577.2" font-size="15.6" fill="#444" stroke="#444" text-anchor="middle">WT1</text>
<text x="1899.3" y="577.2" font-size="15.6" fill="#444" stroke="#444" text-anchor="middle">WT2</text>
</g>
<g id="panel-e">
<text x="452" y="716" font-size="30" fill="#000" stroke="#000" font-weight="bold">e</text>
<rect x="631.25" y="977.5" width="34.5" height="34.25" fill="#000000"/>
<rect x="679.5" y="870.5" width="34.5" height="141.25" fill="#000000"/>
<rect x="727.5" y="829.5" width="34.5" height="182.25" fill="#000000"/>
<rect x="775.75" y="804.25" width="34.25" height="207.5" fill="#000000"/>
<rect x="855.75" y="999.5" width="34.75" height="12.25" fill="#a1a0a5"/>
<rect x="904.25" y="950" width="34.75" height="61.75" fill="#a1a0a5"/>
<rect x="952.5" y="933.75" width="35" height="78" fill="#a1a0a5"/>
<rect x="1001" y="872.5" width="34.75" height="139.25" fill="#a1a0a5"/>
<rect x="1081.75" y="994.25" width="34.5" height="17.5" fill="#808080"/>
<rect x="1130" y="946.75" width="34.25" height="65" fill="#808080"/>
<rect x="1178.5" y="915" width="34" height="96.75" fill="#808080"/>
<rect x="1226.5" y="898.5" width="34.75" height="113.25" fill="#808080"/>
<rect x="1306.75" y="995.75" width="34.5" height="16" fill="#d5d5d5"/>
<rect x="1355.5" y="859" width="34.5" height="152.75" fill="#d5d5d5"/>
<rect x="1403.75" y="844.25" width="34.5" height="167.5" fill="#d5d5d5"/>
<rect x="1451.75" y="806.75" width="34.5" height="205" fill="#d5d5d5"/>
<line x1="648.5" y1="975" x2="648.5" y2="979" stroke="#1c1c1c" stroke-width="2.2"/>
<line x1="640.8" y1="975" x2="656.2" y2="975" stroke="#1c1c1c" stroke-width="2.2"/>
<line x1="696.75" y1="840" x2="696.75" y2="872" stroke="#1c1c1c" stroke-width="2.2"/>
<line x1="689.05" y1="840" x2="704.45" y2="840" stroke="#1c1c1c" stroke-width="2.2"/>
<line x1="744.75" y1="816.25" x2="744.75" y2="831" stroke="#1c1c1c" stroke-width="2.2"/>
<line x1="737.05" y1="816.25" x2="752.45" y2="816.25" stroke="#1c1c1c" stroke-width="2.2"/>
<line x1="792.88" y1="761.25" x2="792.88" y2="805.75" stroke="#1c1c1c" stroke-width="2.2"/>
<line x1="785.17" y1="761.25" x2="800.58" y2="761.25" stroke="#1c1c1c" stroke-width="2.2"/>
<line x1="873.12" y1="992" x2="873.12" y2="1001" stroke="#333" stroke-width="2.2"/>
<line x1="865.42" y1="992" x2="880.83" y2="992" stroke="#333" stroke-width="2.2"/>
<line x1="921.62" y1="911.5" x2="921.62" y2="951.5" stroke="#333" stroke-width="2.2"/>
<line x1="913.92" y1="911.5" x2="929.33" y2="911.5" stroke="#333" stroke-width="2.2"/>
<line x1="970" y1="888" x2="970" y2="935.25" stroke="#333" stroke-width="2.2"/>
<line x1="962.3" y1="888" x2="977.7" y2="888" stroke="#333" stroke-width="2.2"/>
<line x1="1018.38" y1="864.5" x2="1018.38" y2="874" stroke="#333" stroke-width="2.2"/>
<line x1="1010.67" y1="864.5" x2="1026.08" y2="864.5" stroke="#333" stroke-width="2.2"/>
<line x1="1099" y1="981.25" x2="1099" y2="995.75" stroke="#333" stroke-width="2.2"/>
<line x1="1091.3" y1="981.25" x2="1106.7" y2="981.25" stroke="#333" stroke-width="2.2"/>
<line x1="1147.12" y1="905.75" x2="1147.12" y2="948.25" stroke="#333" stroke-width="2.2"/>
<line x1="1139.42" y1="905.75" x2="1154.83" y2="905.75" stroke="#333" stroke-width="2.2"/>
<line x1="1195.5" y1="872.25" x2="1195.5" y2="916.5" stroke="#333" stroke-width="2.2"/>
<line x1="1187.8" y1="872.25" x2="1203.2" y2="872.25" stroke="#333" stroke-width="2.2"/>
<line x1="1243.88" y1="885.5" x2="1243.88" y2="900" stroke="#333" stroke-width="2.2"/>
<line x1="1236.17" y1="885.5" x2="1251.58" y2="885.5" stroke="#333" stroke-width="2.2"/>
<line x1="1324" y1="985.5" x2="1324" y2="997.25" stroke="#333" stroke-width="2.2"/>
<line x1="1316.3" y1="985.5" x2="1331.7" y2="985.5" stroke="#333" stroke-width="2.2"/>
<line x1="1372.75" y1="850.5" x2="1372.75" y2="860.5" stroke="#333" stroke-width="2.2"/>
<line x1="1365.05" y1="850.5" x2="1380.45" y2="850.5" stroke="#333" stroke-width="2.2"/>
<line x1="1421" y1="839.5" x2="1421" y2="845.75" stroke="#333" stroke-width="2.2"/>
<line x1="1413.3" y1="839.5" x2="1428.7" y2="839.5" stroke="#333" stroke-width="2.2"/>
<line x1="1469" y1="783.5" x2="1469" y2="808.25" stroke="#333" stroke-width="2.2"/>
<line x1="1461.3" y1="783.5" x2="1476.7" y2="783.5" stroke="#333" stroke-width="2.2"/>
<line x1="608.7" y1="696.3" x2="608.7" y2="1012.75" stroke="#2e2e2e" stroke-width="2"/>
<line x1="602" y1="1011.75" x2="1510" y2="1011.75" stroke="#2e2e2e" stroke-width="2"/>
<line x1="602.2" y1="697.3" x2="608.7" y2="697.3" stroke="#2e2e2e" stroke-width="2"/>
<text x="601.3" y="703.9" font-size="18.2" fill="#2b2b2b" stroke="#2b2b2b" text-anchor="end" textLength="56.1" lengthAdjust="spacingAndGlyphs">20000</text>
<line x1="602.2" y1="775.75" x2="608.7" y2="775.75" stroke="#2e2e2e" stroke-width="2"/>
<text x="601.3" y="782.35" font-size="18.2" fill="#2b2b2b" stroke="#2b2b2b" text-anchor="end" textLength="56.1" lengthAdjust="spacingAndGlyphs">15000</text>
<line x1="602.2" y1="854.5" x2="608.7" y2="854.5" stroke="#2e2e2e" stroke-width="2"/>
<text x="601.3" y="861.1" font-size="18.2" fill="#2b2b2b" stroke="#2b2b2b" text-anchor="end" textLength="56.1" lengthAdjust="spacingAndGlyphs">10000</text>
<line x1="602.2" y1="933.25" x2="608.7" y2="933.25" stroke="#2e2e2e" stroke-width="2"/>
<text x="601.3" y="939.85" font-size="18.2" fill="#2b2b2b" stroke="#2b2b2b" text-anchor="end" textLength="45.2" lengthAdjust="spacingAndGlyphs">5000</text>
<line x1="602.2" y1="1011.75" x2="608.7" y2="1011.75" stroke="#2e2e2e" stroke-width="2"/>
<text x="601.3" y="1018.35" font-size="18.2" fill="#2b2b2b" stroke="#2b2b2b" text-anchor="end" textLength="12.5" lengthAdjust="spacingAndGlyphs">0</text>
<text font-size="20" fill="#2b2b2b" stroke="#2b2b2b" text-anchor="end" transform="translate(654.6 1024.35) rotate(-45)">8w</text>
<text font-size="20" fill="#2b2b2b" stroke="#2b2b2b" text-anchor="end" transform="translate(702.85 1024.35) rotate(-45)">12w</text>
<text font-size="20" fill="#2b2b2b" stroke="#2b2b2b" text-anchor="end" transform="translate(750.85 1024.35) rotate(-45)">16w</text>
<text font-size="20" fill="#2b2b2b" stroke="#2b2b2b" text-anchor="end" transform="translate(798.98 1024.35) rotate(-45)">20w</text>
<text font-size="20" fill="#2b2b2b" stroke="#2b2b2b" text-anchor="end" transform="translate(879.23 1024.35) rotate(-45)">8w</text>
<text font-size="20" fill="#2b2b2b" stroke="#2b2b2b" text-anchor="end" transform="translate(927.73 1024.35) rotate(-45)">12w</text>
<text font-size="20" fill="#2b2b2b" stroke="#2b2b2b" text-anchor="end" transform="translate(976.1 1024.35) rotate(-45)">16w</text>
<text font-size="20" fill="#2b2b2b" stroke="#2b2b2b" text-anchor="end" transform="translate(1024.47 1024.35) rotate(-45)">20w</text>
<text font-size="20" fill="#2b2b2b" stroke="#2b2b2b" text-anchor="end" transform="translate(1105.1 1024.35) rotate(-45)">8w</text>
<text font-size="20" fill="#2b2b2b" stroke="#2b2b2b" text-anchor="end" transform="translate(1153.22 1024.35) rotate(-45)">12w</text>
<text font-size="20" fill="#2b2b2b" stroke="#2b2b2b" text-anchor="end" transform="translate(1201.6 1024.35) rotate(-45)">16w</text>
<text font-size="20" fill="#2b2b2b" stroke="#2b2b2b" text-anchor="end" transform="translate(1249.97 1024.35) rotate(-45)">20w</text>
<text font-size="20" fill="#2b2b2b" stroke="#2b2b2b" text-anchor="end" transform="translate(1330.1 1024.35) rotate(-45)">8w</text>
<text font-size="20" fill="#2b2b2b" stroke="#2b2b2b" text-anchor="end" transform="translate(1378.85 1024.35) rotate(-45)">12w</text>
<text font-size="20" fill="#2b2b2b" stroke="#2b2b2b" text-anchor="end" transform="translate(1427.1 1024.35) rotate(-45)">16w</text>
<text font-size="20" fill="#2b2b2b" stroke="#2b2b2b" text-anchor="end" transform="translate(1475.1 1024.35) rotate(-45)">20w</text>
<text transform="translate(538.4 989) rotate(-90)" font-size="21.8" fill="#2b2b2b" stroke="#2b2b2b"><tspan x="-0.8" textLength="77" lengthAdjust="spacing">Number</tspan> <tspan x="80.5" textLength="20.2" lengthAdjust="spacing">of</tspan> <tspan x="112.8" textLength="53.5" lengthAdjust="spacing">spikes</tspan> <tspan x="171.5" textLength="31" lengthAdjust="spacing">per</tspan> <tspan x="207.8" textLength="66.2" lengthAdjust="spacing">minute</tspan></text>
<text x="732.5" y="1083.2" font-size="22" fill="#2b2b2b" stroke="#2b2b2b" textLength="130.5" lengthAdjust="spacingAndGlyphs">Time (weeks)</text>
<rect x="722" y="710.5" width="23" height="12" fill="#000000"/>
<text x="755.5" y="722.8" font-size="16" fill="#2b2b2b" stroke="#2b2b2b" textLength="62" lengthAdjust="spacingAndGlyphs">WT1c1a</text>
<rect x="823.75" y="710.5" width="23.75" height="12" fill="#a1a0a5"/>
<text x="857.5" y="722.8" font-size="16" fill="#2b2b2b" stroke="#2b2b2b" textLength="61" lengthAdjust="spacingAndGlyphs">WT1c1b</text>
<rect x="926.25" y="710.5" width="23.75" height="12" fill="#808080"/>
<text x="960" y="722.8" font-size="16" fill="#2b2b2b" stroke="#2b2b2b" textLength="62" lengthAdjust="spacingAndGlyphs">WT1c2a</text>
<rect x="1027.5" y="710.5" width="24.25" height="12" fill="#d5d5d5"/>
<text x="1060.75" y="722.8" font-size="16" fill="#2b2b2b" stroke="#2b2b2b" textLength="54.5" lengthAdjust="spacingAndGlyphs">WTc2b</text>
<rect x="112" y="1413.75" width="34.75" height="20.5" fill="#000000"/>
<rect x="160.25" y="1330.5" width="34.75" height="103.75" fill="#000000"/>
<rect x="208.75" y="1297.5" width="34.5" height="136.75" fill="#000000"/>
<rect x="257" y="1249.5" width="34.75" height="184.75" fill="#000000"/>
<rect x="337.75" y="1425" width="34.75" height="9.25" fill="#a1a0a5"/>
<rect x="386.25" y="1367.5" width="34.75" height="66.75" fill="#a1a0a5"/>
<rect x="434.75" y="1351.25" width="34.5" height="83" fill="#a1a0a5"/>
<rect x="483" y="1294.5" width="34.5" height="139.75" fill="#a1a0a5"/>
<rect x="563.25" y="1424.5" width="34.75" height="9.75" fill="#808080"/>
<rect x="611.75" y="1388.25" width="34.5" height="46" fill="#808080"/>
<rect x="660.25" y="1334.25" width="34.5" height="100" fill="#808080"/>
<rect x="708.75" y="1312.5" width="34.5" height="121.75" fill="#808080"/>
<rect x="789.25" y="1424.5" width="35" height="9.75" fill="#d5d5d5"/>
<rect x="838.25" y="1328" width="34.25" height="106.25" fill="#d5d5d5"/>
<rect x="886.75" y="1311.5" width="34.5" height="122.75" fill="#d5d5d5"/>
<rect x="935" y="1292" width="32.4" height="142.25" fill="#d5d5d5"/>
<line x1="129.38" y1="1412.5" x2="129.38" y2="1415.25" stroke="#1c1c1c" stroke-width="2.2"/>
<line x1="121.67" y1="1412.5" x2="137.07" y2="1412.5" stroke="#1c1c1c" stroke-width="2.2"/>
<line x1="177.62" y1="1327" x2="177.62" y2="1332" stroke="#1c1c1c" stroke-width="2.2"/>
<line x1="169.93" y1="1327" x2="185.32" y2="1327" stroke="#1c1c1c" stroke-width="2.2"/>
<line x1="226" y1="1294.25" x2="226" y2="1299" stroke="#1c1c1c" stroke-width="2.2"/>
<line x1="218.3" y1="1294.25" x2="233.7" y2="1294.25" stroke="#1c1c1c" stroke-width="2.2"/>
<line x1="274.38" y1="1201.75" x2="274.38" y2="1251" stroke="#1c1c1c" stroke-width="2.2"/>
<line x1="266.68" y1="1201.75" x2="282.07" y2="1201.75" stroke="#1c1c1c" stroke-width="2.2"/>
<line x1="355.12" y1="1420.75" x2="355.12" y2="1426.5" stroke="#333" stroke-width="2.2"/>
<line x1="347.43" y1="1420.75" x2="362.82" y2="1420.75" stroke="#333" stroke-width="2.2"/>
<line x1="403.62" y1="1345.75" x2="403.62" y2="1369" stroke="#333" stroke-width="2.2"/>
<line x1="395.93" y1="1345.75" x2="411.32" y2="1345.75" stroke="#333" stroke-width="2.2"/>
<line x1="452" y1="1301.75" x2="452" y2="1352.75" stroke="#333" stroke-width="2.2"/>
<line x1="444.3" y1="1301.75" x2="459.7" y2="1301.75" stroke="#333" stroke-width="2.2"/>
<line x1="500.25" y1="1271.5" x2="500.25" y2="1296" stroke="#333" stroke-width="2.2"/>
<line x1="492.55" y1="1271.5" x2="507.95" y2="1271.5" stroke="#333" stroke-width="2.2"/>
<line x1="580.62" y1="1418.5" x2="580.62" y2="1426" stroke="#333" stroke-width="2.2"/>
<line x1="572.92" y1="1418.5" x2="588.33" y2="1418.5" stroke="#333" stroke-width="2.2"/>
<line x1="629" y1="1364.5" x2="629" y2="1389.75" stroke="#333" stroke-width="2.2"/>
<line x1="621.3" y1="1364.5" x2="636.7" y2="1364.5" stroke="#333" stroke-width="2.2"/>
<line x1="677.5" y1="1296.5" x2="677.5" y2="1335.75" stroke="#333" stroke-width="2.2"/>
<line x1="669.8" y1="1296.5" x2="685.2" y2="1296.5" stroke="#333" stroke-width="2.2"/>
<line x1="726" y1="1265.75" x2="726" y2="1314" stroke="#333" stroke-width="2.2"/>
<line x1="718.3" y1="1265.75" x2="733.7" y2="1265.75" stroke="#333" stroke-width="2.2"/>
<line x1="806.75" y1="1418.5" x2="806.75" y2="1426" stroke="#333" stroke-width="2.2"/>
<line x1="799.05" y1="1418.5" x2="814.45" y2="1418.5" stroke="#333" stroke-width="2.2"/>
<line x1="855.38" y1="1314.5" x2="855.38" y2="1329.5" stroke="#333" stroke-width="2.2"/>
<line x1="847.67" y1="1314.5" x2="863.08" y2="1314.5" stroke="#333" stroke-width="2.2"/>
<line x1="904" y1="1290.75" x2="904" y2="1313" stroke="#333" stroke-width="2.2"/>
<line x1="896.3" y1="1290.75" x2="911.7" y2="1290.75" stroke="#333" stroke-width="2.2"/>
<line x1="951.2" y1="1277.5" x2="951.2" y2="1293.5" stroke="#333" stroke-width="2.2"/>
<line x1="943.5" y1="1277.5" x2="958.9" y2="1277.5" stroke="#333" stroke-width="2.2"/>
<line x1="88.75" y1="1118.25" x2="88.75" y2="1435.25" stroke="#4a4a4a" stroke-width="2.2"/>
<line x1="82.5" y1="1434.25" x2="967.4" y2="1434.25" stroke="#4a4a4a" stroke-width="2.2"/>
<line x1="82.25" y1="1119.25" x2="88.75" y2="1119.25" stroke="#4a4a4a" stroke-width="2.2"/>
<text x="81.3" y="1125.85" font-size="18.2" fill="#2b2b2b" stroke="#2b2b2b" text-anchor="end" textLength="34.3" lengthAdjust="spacingAndGlyphs">400</text>
<line x1="82.25" y1="1198.25" x2="88.75" y2="1198.25" stroke="#4a4a4a" stroke-width="2.2"/>
<text x="81.3" y="1204.85" font-size="18.2" fill="#2b2b2b" stroke="#2b2b2b" text-anchor="end" textLength="34.3" lengthAdjust="spacingAndGlyphs">300</text>
<line x1="82.25" y1="1277" x2="88.75" y2="1277" stroke="#4a4a4a" stroke-width="2.2"/>
<text x="81.3" y="1283.6" font-size="18.2" fill="#2b2b2b" stroke="#2b2b2b" text-anchor="end" textLength="34.3" lengthAdjust="spacingAndGlyphs">200</text>
<line x1="82.25" y1="1355.5" x2="88.75" y2="1355.5" stroke="#4a4a4a" stroke-width="2.2"/>
<text x="81.3" y="1362.1" font-size="18.2" fill="#2b2b2b" stroke="#2b2b2b" text-anchor="end" textLength="34.3" lengthAdjust="spacingAndGlyphs">100</text>
<line x1="82.25" y1="1434.25" x2="88.75" y2="1434.25" stroke="#4a4a4a" stroke-width="2.2"/>
<text x="81.3" y="1440.85" font-size="18.2" fill="#2b2b2b" stroke="#2b2b2b" text-anchor="end" textLength="12.5" lengthAdjust="spacingAndGlyphs">0</text>
<text font-size="19.5" fill="#2b2b2b" stroke="#2b2b2b" text-anchor="end" transform="translate(135.38 1448.45) rotate(-45)">8w</text>
<text font-size="19.5" fill="#2b2b2b" stroke="#2b2b2b" text-anchor="end" transform="translate(183.62 1448.45) rotate(-45)">12w</text>
<text font-size="19.5" fill="#2b2b2b" stroke="#2b2b2b" text-anchor="end" transform="translate(232 1448.45) rotate(-45)">16w</text>
<text font-size="19.5" fill="#2b2b2b" stroke="#2b2b2b" text-anchor="end" transform="translate(280.38 1448.45) rotate(-45)">20w</text>
<text font-size="19.5" fill="#2b2b2b" stroke="#2b2b2b" text-anchor="end" transform="translate(361.12 1448.45) rotate(-45)">8w</text>
<text font-size="19.5" fill="#2b2b2b" stroke="#2b2b2b" text-anchor="end" transform="translate(409.62 1448.45) rotate(-45)">12w</text>
<text font-size="19.5" fill="#2b2b2b" stroke="#2b2b2b" text-anchor="end" transform="translate(458 1448.45) rotate(-45)">16w</text>
<text font-size="19.5" fill="#2b2b2b" stroke="#2b2b2b" text-anchor="end" transform="translate(506.25 1448.45) rotate(-45)">20w</text>
<text font-size="19.5" fill="#2b2b2b" stroke="#2b2b2b" text-anchor="end" transform="translate(586.62 1448.45) rotate(-45)">8w</text>
<text font-size="19.5" fill="#2b2b2b" stroke="#2b2b2b" text-anchor="end" transform="translate(635 1448.45) rotate(-45)">12w</text>
<text font-size="19.5" fill="#2b2b2b" stroke="#2b2b2b" text-anchor="end" transform="translate(683.5 1448.45) rotate(-45)">16w</text>
<text font-size="19.5" fill="#2b2b2b" stroke="#2b2b2b" text-anchor="end" transform="translate(732 1448.45) rotate(-45)">20w</text>
<text font-size="19.5" fill="#2b2b2b" stroke="#2b2b2b" text-anchor="end" transform="translate(812.75 1448.45) rotate(-45)">8w</text>
<text font-size="19.5" fill="#2b2b2b" stroke="#2b2b2b" text-anchor="end" transform="translate(861.38 1448.45) rotate(-45)">12w</text>
<text font-size="19.5" fill="#2b2b2b" stroke="#2b2b2b" text-anchor="end" transform="translate(910 1448.45) rotate(-45)">16w</text>
<text font-size="19.5" fill="#2b2b2b" stroke="#2b2b2b" text-anchor="end" transform="translate(957.2 1448.45) rotate(-45)">20w</text>
<text transform="translate(19 1410.1) rotate(-90)" font-size="21.8" fill="#2b2b2b" stroke="#2b2b2b"><tspan x="-0.8" textLength="78" lengthAdjust="spacing">Number</tspan> <tspan x="81.5" textLength="20.2" lengthAdjust="spacing">of</tspan> <tspan x="106" textLength="62.2" lengthAdjust="spacing">bursts</tspan> <tspan x="170.6" textLength="31.9" lengthAdjust="spacing">per</tspan> <tspan x="211.7" textLength="60.4" lengthAdjust="spacing">minute</tspan></text>
<text x="221" y="1513" font-size="22" fill="#2b2b2b" stroke="#2b2b2b" textLength="130.5" lengthAdjust="spacingAndGlyphs">Time (weeks)</text>
<rect x="1113" y="1300.5" width="34.5" height="142" fill="#000000"/>
<rect x="1161.25" y="1272" width="34.5" height="170.5" fill="#000000"/>
<rect x="1210" y="1250.25" width="34.5" height="192.25" fill="#000000"/>
<rect x="1258.75" y="1238" width="34.5" height="204.5" fill="#000000"/>
<rect x="1340" y="1361.25" width="34.5" height="81.25" fill="#a1a0a5"/>
<rect x="1388.75" y="1306.5" width="34.5" height="136" fill="#a1a0a5"/>
<rect x="1437.5" y="1270.5" width="34.5" height="172" fill="#a1a0a5"/>
<rect x="1486.25" y="1204.5" width="34.5" height="238" fill="#a1a0a5"/>
<rect x="1567.5" y="1383.25" width="34.5" height="59.25" fill="#808080"/>
<rect x="1616.25" y="1349.5" width="35" height="93" fill="#808080"/>
<rect x="1665" y="1277" width="34.75" height="165.5" fill="#808080"/>
<rect x="1713.5" y="1253.25" width="34.75" height="189.25" fill="#808080"/>
<rect x="1795" y="1385" width="34.5" height="57.5" fill="#d5d5d5"/>
<rect x="1843.75" y="1268.75" width="34.5" height="173.75" fill="#d5d5d5"/>
<rect x="1892.25" y="1242" width="34.75" height="200.5" fill="#d5d5d5"/>
<rect x="1940.75" y="1221" width="35" height="221.5" fill="#d5d5d5"/>
<line x1="1130.25" y1="1259.5" x2="1130.25" y2="1302" stroke="#1c1c1c" stroke-width="2.2"/>
<line x1="1122.55" y1="1259.5" x2="1137.95" y2="1259.5" stroke="#1c1c1c" stroke-width="2.2"/>
<line x1="1178.5" y1="1268.75" x2="1178.5" y2="1273.5" stroke="#1c1c1c" stroke-width="2.2"/>
<line x1="1170.8" y1="1268.75" x2="1186.2" y2="1268.75" stroke="#1c1c1c" stroke-width="2.2"/>
<line x1="1227.25" y1="1230" x2="1227.25" y2="1251.75" stroke="#1c1c1c" stroke-width="2.2"/>
<line x1="1219.55" y1="1230" x2="1234.95" y2="1230" stroke="#1c1c1c" stroke-width="2.2"/>
<line x1="1276" y1="1232" x2="1276" y2="1239.5" stroke="#1c1c1c" stroke-width="2.2"/>
<line x1="1268.3" y1="1232" x2="1283.7" y2="1232" stroke="#1c1c1c" stroke-width="2.2"/>
<line x1="1357.25" y1="1292.5" x2="1357.25" y2="1362.75" stroke="#333" stroke-width="2.2"/>
<line x1="1349.55" y1="1292.5" x2="1364.95" y2="1292.5" stroke="#333" stroke-width="2.2"/>
<line x1="1406" y1="1273.5" x2="1406" y2="1308" stroke="#333" stroke-width="2.2"/>
<line x1="1398.3" y1="1273.5" x2="1413.7" y2="1273.5" stroke="#333" stroke-width="2.2"/>
<line x1="1454.75" y1="1243" x2="1454.75" y2="1272" stroke="#333" stroke-width="2.2"/>
<line x1="1447.05" y1="1243" x2="1462.45" y2="1243" stroke="#333" stroke-width="2.2"/>
<line x1="1503.5" y1="1198.25" x2="1503.5" y2="1206" stroke="#333" stroke-width="2.2"/>
<line x1="1495.8" y1="1198.25" x2="1511.2" y2="1198.25" stroke="#333" stroke-width="2.2"/>
<line x1="1584.75" y1="1326.5" x2="1584.75" y2="1384.75" stroke="#333" stroke-width="2.2"/>
<line x1="1577.05" y1="1326.5" x2="1592.45" y2="1326.5" stroke="#333" stroke-width="2.2"/>
<line x1="1633.75" y1="1312.25" x2="1633.75" y2="1351" stroke="#333" stroke-width="2.2"/>
<line x1="1626.05" y1="1312.25" x2="1641.45" y2="1312.25" stroke="#333" stroke-width="2.2"/>
<line x1="1682.38" y1="1272.25" x2="1682.38" y2="1278.5" stroke="#333" stroke-width="2.2"/>
<line x1="1674.67" y1="1272.25" x2="1690.08" y2="1272.25" stroke="#333" stroke-width="2.2"/>
<line x1="1730.88" y1="1252.25" x2="1730.88" y2="1254.75" stroke="#333" stroke-width="2.2"/>
<line x1="1723.17" y1="1252.25" x2="1738.58" y2="1252.25" stroke="#333" stroke-width="2.2"/>
<line x1="1812.25" y1="1329.75" x2="1812.25" y2="1386.5" stroke="#333" stroke-width="2.2"/>
<line x1="1804.55" y1="1329.75" x2="1819.95" y2="1329.75" stroke="#333" stroke-width="2.2"/>
<line x1="1853.3" y1="1268.5" x2="1868.7" y2="1268.5" stroke="#333" stroke-width="2.2"/>
<line x1="1909.62" y1="1237.75" x2="1909.62" y2="1243.5" stroke="#333" stroke-width="2.2"/>
<line x1="1901.92" y1="1237.75" x2="1917.33" y2="1237.75" stroke="#333" stroke-width="2.2"/>
<line x1="1958.25" y1="1208.25" x2="1958.25" y2="1222.5" stroke="#333" stroke-width="2.2"/>
<line x1="1950.55" y1="1208.25" x2="1965.95" y2="1208.25" stroke="#333" stroke-width="2.2"/>
<line x1="1088.75" y1="1123.25" x2="1088.75" y2="1443.5" stroke="#161616" stroke-width="2.3"/>
<line x1="1082.5" y1="1442.5" x2="1999.5" y2="1442.5" stroke="#161616" stroke-width="2.3"/>
<line x1="1082.25" y1="1124.25" x2="1088.75" y2="1124.25" stroke="#161616" stroke-width="2.3"/>
<text x="1081.3" y="1130.85" font-size="18.2" fill="#2b2b2b" stroke="#2b2b2b" text-anchor="end" textLength="28.6" lengthAdjust="spacingAndGlyphs">1.0</text>
<line x1="1082.25" y1="1187.75" x2="1088.75" y2="1187.75" stroke="#161616" stroke-width="2.3"/>
<text x="1081.3" y="1194.35" font-size="18.2" fill="#2b2b2b" stroke="#2b2b2b" text-anchor="end" textLength="28.6" lengthAdjust="spacingAndGlyphs">0.8</text>
<line x1="1082.25" y1="1251.5" x2="1088.75" y2="1251.5" stroke="#161616" stroke-width="2.3"/>
<text x="1081.3" y="1258.1" font-size="18.2" fill="#2b2b2b" stroke="#2b2b2b" text-anchor="end" textLength="28.6" lengthAdjust="spacingAndGlyphs">0.6</text>
<line x1="1082.25" y1="1315.25" x2="1088.75" y2="1315.25" stroke="#161616" stroke-width="2.3"/>
<text x="1081.3" y="1321.85" font-size="18.2" fill="#2b2b2b" stroke="#2b2b2b" text-anchor="end" textLength="28.6" lengthAdjust="spacingAndGlyphs">0.4</text>
<line x1="1082.25" y1="1379.25" x2="1088.75" y2="1379.25" stroke="#161616" stroke-width="2.3"/>
<text x="1081.3" y="1385.85" font-size="18.2" fill="#2b2b2b" stroke="#2b2b2b" text-anchor="end" textLength="28.6" lengthAdjust="spacingAndGlyphs">0.2</text>
<line x1="1082.25" y1="1442.5" x2="1088.75" y2="1442.5" stroke="#161616" stroke-width="2.3"/>
<text x="1081.3" y="1449.1" font-size="18.2" fill="#2b2b2b" stroke="#2b2b2b" text-anchor="end" textLength="28.6" lengthAdjust="spacingAndGlyphs">0.0</text>
<text font-size="20" fill="#2b2b2b" stroke="#2b2b2b" text-anchor="end" transform="translate(1135.85 1456.9) rotate(-45)">8w</text>
<text font-size="20" fill="#2b2b2b" stroke="#2b2b2b" text-anchor="end" transform="translate(1184.1 1456.9) rotate(-45)">12w</text>
<text font-size="20" fill="#2b2b2b" stroke="#2b2b2b" text-anchor="end" transform="translate(1232.85 1456.9) rotate(-45)">16w</text>
<text font-size="20" fill="#2b2b2b" stroke="#2b2b2b" text-anchor="end" transform="translate(1281.6 1456.9) rotate(-45)">20w</text>
<text font-size="20" fill="#2b2b2b" stroke="#2b2b2b" text-anchor="end" transform="translate(1362.85 1456.9) rotate(-45)">8w</text>
<text font-size="20" fill="#2b2b2b" stroke="#2b2b2b" text-anchor="end" transform="translate(1411.6 1456.9) rotate(-45)">12w</text>
<text font-size="20" fill="#2b2b2b" stroke="#2b2b2b" text-anchor="end" transform="translate(1460.35 1456.9) rotate(-45)">16w</text>
<text font-size="20" fill="#2b2b2b" stroke="#2b2b2b" text-anchor="end" transform="translate(1509.1 1456.9) rotate(-45)">20w</text>
<text font-size="20" fill="#2b2b2b" stroke="#2b2b2b" text-anchor="end" transform="translate(1590.35 1456.9) rotate(-45)">8w</text>
<text font-size="20" fill="#2b2b2b" stroke="#2b2b2b" text-anchor="end" transform="translate(1639.35 1456.9) rotate(-45)">12w</text>
<text font-size="20" fill="#2b2b2b" stroke="#2b2b2b" text-anchor="end" transform="translate(1687.97 1456.9) rotate(-45)">16w</text>
<text font-size="20" fill="#2b2b2b" stroke="#2b2b2b" text-anchor="end" transform="translate(1736.47 1456.9) rotate(-45)">20w</text>
<text font-size="20" fill="#2b2b2b" stroke="#2b2b2b" text-anchor="end" transform="translate(1817.85 1456.9) rotate(-45)">8w</text>
<text font-size="20" fill="#2b2b2b" stroke="#2b2b2b" text-anchor="end" transform="translate(1866.6 1456.9) rotate(-45)">12w</text>
<text font-size="20" fill="#2b2b2b" stroke="#2b2b2b" text-anchor="end" transform="translate(1915.22 1456.9) rotate(-45)">16w</text>
<text font-size="20" fill="#2b2b2b" stroke="#2b2b2b" text-anchor="end" transform="translate(1963.85 1456.9) rotate(-45)">20w</text>
<text transform="translate(1019.5 1393.1) rotate(-90)" font-size="21.8" fill="#2b2b2b" stroke="#2b2b2b"><tspan x="-0.8" textLength="103.4" lengthAdjust="spacing">Synchrony</tspan> <tspan x="108.9" textLength="51.5" lengthAdjust="spacing">index</tspan> <tspan x="167.7" textLength="55.4" lengthAdjust="spacing">(A.U.)</tspan></text>
<text x="1217" y="1523" font-size="22" fill="#2b2b2b" stroke="#2b2b2b" textLength="130.5" lengthAdjust="spacingAndGlyphs">Time (weeks)</text>
</g>
</g>
</svg>
</body></html>
